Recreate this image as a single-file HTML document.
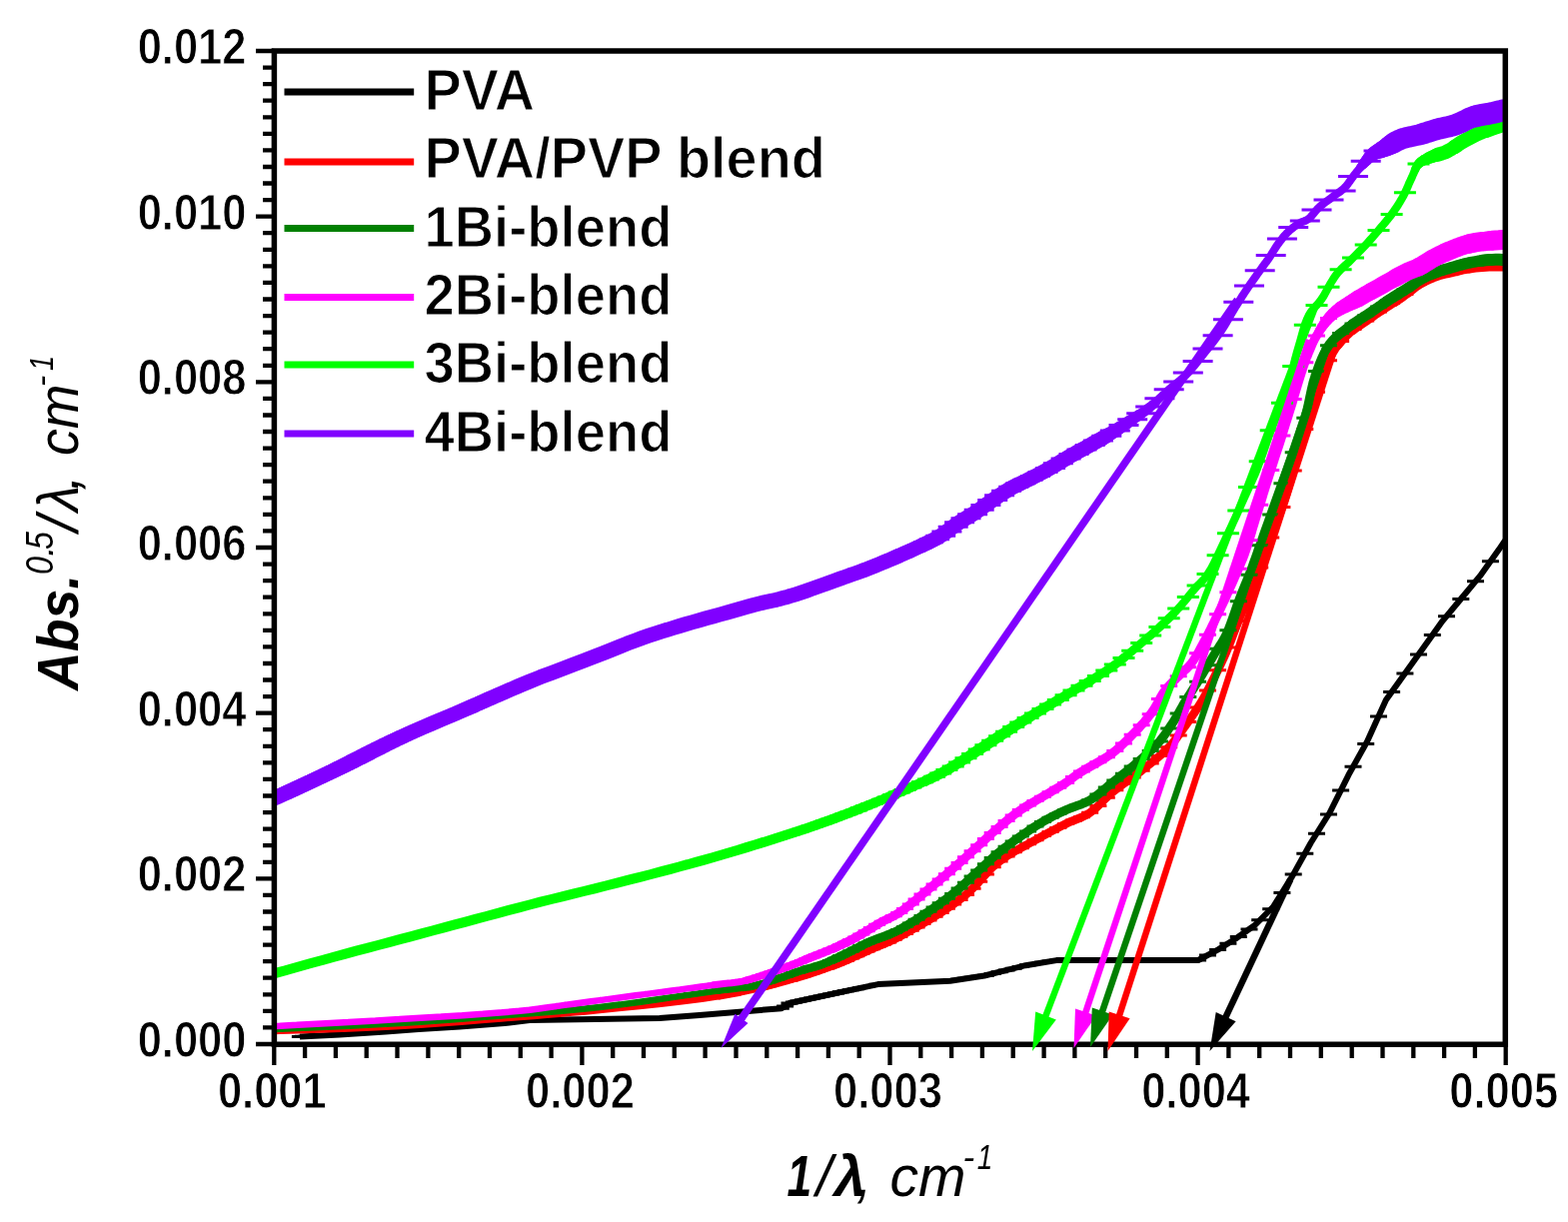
<!DOCTYPE html>
<html><head><meta charset="utf-8"><style>
html,body{margin:0;padding:0;background:#fff;}
svg{display:block;}
.t{font-family:"Liberation Sans",Arial,sans-serif;font-weight:bold;fill:#000;}
.th{stroke:#fff;stroke-width:1.2px;}
.th2{stroke:#fff;stroke-width:0.9px;}
</style></head><body>
<svg width="1569" height="1223" viewBox="0 0 1569 1223">
<rect width="1569" height="1223" fill="#fff"/>
<defs><clipPath id="pc"><rect x="274.3" y="51.3" width="1232.4" height="993.7"/></clipPath></defs>
<g fill="none" stroke-linecap="butt" stroke-linejoin="round" clip-path="url(#pc)"><path d="M1482.9 561.8H1499.9M1468.0 581.8H1485.0M1453.3 599.4H1470.3M1439.0 616.7H1456.0M1424.8 635.6H1441.8M1411.0 654.9H1428.0M1397.4 674.0H1414.4M1384.1 692.6H1401.1M1371.0 716.9H1388.0M1358.2 744.6H1375.2M1345.5 767.3H1362.5M1333.1 791.1H1350.1M1321.0 815.1H1338.0M1309.0 834.2H1326.0M1297.3 854.2H1314.3M1285.7 875.0H1302.7M1274.4 893.4H1291.4M1263.2 909.8H1280.2M1252.2 920.8H1269.2M1241.5 930.0H1258.5M1230.8 937.4H1247.8M1220.4 944.2H1237.4M1210.1 950.5H1227.1M1200.0 955.9H1217.0M1190.1 961.0H1207.1M1180.3 961.0H1197.3M1170.7 961.0H1187.7M1161.2 961.0H1178.2M1151.9 961.0H1168.9M1142.7 961.0H1159.7M1133.7 961.0H1150.7M1124.7 961.0H1141.7M1116.0 961.1H1133.0M1107.3 961.1H1124.3M1098.8 961.1H1115.8M1090.4 961.1H1107.4M1082.2 961.1H1099.2M1074.0 961.1H1091.0M1066.0 961.1H1083.0M1058.1 961.1H1075.1M1050.3 961.1H1067.3M1042.6 962.1H1059.6M1035.0 963.3H1052.0M1027.5 964.6H1044.5M1020.1 965.8H1037.1M1012.8 967.4H1029.8M1005.7 969.2H1022.7M998.6 971.0H1015.6M991.6 972.7H1008.6M984.7 974.5H1001.7M977.9 976.2H994.9M971.2 977.3H988.2M964.6 978.3H981.6M958.0 979.3H975.0M951.6 980.3H968.6M945.2 981.2H962.2M938.9 981.9H955.9M932.7 982.1H949.7M926.6 982.4H943.6M920.5 982.7H937.5M914.5 983.0H931.5M908.6 983.3H925.6M902.8 983.6H919.8M897.0 983.8H914.0M891.3 984.1H908.3M885.7 984.4H902.7M880.2 984.6H897.2M874.7 984.9H891.7M869.2 985.3H886.2M863.9 986.4H880.9M858.6 987.5H875.6M853.3 988.6H870.3M848.2 989.7H865.2M843.0 990.7H860.0M838.0 991.8H855.0M833.0 992.8H850.0M828.0 993.9H845.0M823.1 994.9H840.1M818.3 996.0H835.3M813.5 997.0H830.5M808.8 998.1H825.8M804.1 999.1H821.1M799.5 1000.1H816.5M794.9 1001.1H811.9M790.4 1002.1H807.4M785.9 1003.0H802.9M781.5 1004.0H798.5M777.1 1006.9H794.1M772.8 1009.3H789.8M768.5 1009.6H785.5M764.2 1010.0H781.2M760.0 1010.3H777.0M755.9 1010.7H772.9M751.8 1011.0H768.8M747.7 1011.3H764.7M743.7 1011.7H760.7M739.7 1012.0H756.7M735.7 1012.3H752.7M731.8 1012.7H748.8M728.0 1013.0H745.0M724.1 1013.3H741.1M720.3 1013.6H737.3M716.6 1013.9H733.6M712.8 1014.2H729.8M709.2 1014.5H726.2M705.5 1014.8H722.5M701.9 1015.1H718.9M698.3 1015.4H715.3M694.8 1015.7H711.8M691.3 1016.0H708.3M687.8 1016.3H704.8M684.4 1016.5H701.4M680.9 1016.8H697.9M677.6 1017.0H694.6M674.2 1017.3H691.2M670.9 1017.5H687.9M667.6 1017.8H684.6M664.4 1018.0H681.4M661.1 1018.3H678.1M657.9 1018.5H674.9M654.8 1018.8H671.8M651.6 1019.0H668.6M648.5 1019.0H665.5M645.4 1019.1H662.4M642.4 1019.1H659.4M639.3 1019.2H656.3M636.3 1019.2H653.3M633.4 1019.3H650.4M630.4 1019.3H647.4M627.5 1019.4H644.5M624.6 1019.4H641.6M621.7 1019.5H638.7M618.9 1019.5H635.9M616.0 1019.5H633.0M613.2 1019.6H630.2M610.5 1019.6H627.5M607.7 1019.7H624.7M605.0 1019.7H622.0M602.3 1019.8H619.3M599.6 1019.8H616.6M596.9 1019.8H613.9M594.3 1019.9H611.3M591.7 1019.9H608.7M589.1 1020.0H606.1M586.5 1020.0H603.5M583.9 1020.0H600.9M581.4 1020.1H598.4M578.9 1020.1H595.9M576.4 1020.2H593.4M573.9 1020.2H590.9M571.4 1020.2H588.4M569.0 1020.3H586.0M566.6 1020.3H583.6M564.2 1020.3H581.2M561.8 1020.4H578.8M559.5 1020.4H576.5M557.1 1020.5H574.1M554.8 1020.5H571.8M552.5 1020.5H569.5M550.2 1020.6H567.2M547.9 1020.6H564.9M545.7 1020.6H562.7M543.4 1020.7H560.4M541.2 1020.7H558.2M539.0 1020.7H556.0M536.8 1020.8H553.8M534.7 1020.8H551.7M532.5 1020.8H549.5M530.4 1020.9H547.4M528.3 1020.9H545.3M526.2 1020.9H543.2M524.1 1021.0H541.1M522.0 1021.0H539.0M519.9 1021.2H536.9M517.9 1021.4H534.9M515.9 1021.7H532.9M513.8 1021.9H530.8M511.8 1022.2H528.8M509.9 1022.4H526.9M507.9 1022.6H524.9M505.9 1022.9H522.9M504.0 1023.1H521.0M502.0 1023.3H519.0M500.1 1023.6H517.1M498.2 1023.8H515.2M496.3 1024.0H513.3M494.5 1024.2H511.5M492.6 1024.3H509.6M490.7 1024.4H507.7M488.9 1024.6H505.9M487.1 1024.7H504.1M485.3 1024.9H502.3M483.5 1025.0H500.5M481.7 1025.2H498.7M479.9 1025.3H496.9M478.1 1025.4H495.1M476.4 1025.6H493.4M474.6 1025.7H491.6M472.9 1025.8H489.9M471.2 1026.0H488.2M469.5 1026.1H486.5M467.8 1026.2H484.8M466.1 1026.4H483.1M464.4 1026.5H481.4M462.8 1026.6H479.8M461.1 1026.8H478.1M459.5 1026.9H476.5M457.9 1027.0H474.9M456.2 1027.1H473.2M454.6 1027.3H471.6M453.0 1027.4H470.0M451.4 1027.5H468.4M449.9 1027.6H466.9M448.3 1027.7H465.3M446.7 1027.8H463.7M445.2 1027.9H462.2M443.7 1028.0H460.7M442.1 1028.1H459.1M440.6 1028.2H457.6M439.1 1028.3H456.1M437.6 1028.3H454.6M436.1 1028.4H453.1M434.6 1028.5H451.6M433.2 1028.6H450.2M431.7 1028.7H448.7M430.2 1028.8H447.2M428.8 1028.9H445.8M427.4 1029.0H444.4M425.9 1029.1H442.9M424.5 1029.1H441.5M423.1 1029.2H440.1M421.7 1029.3H438.7M420.3 1029.4H437.3M418.9 1029.5H435.9M417.6 1029.6H434.6M416.2 1029.7H433.2M414.8 1029.7H431.8M413.5 1029.8H430.5M412.1 1029.9H429.1M410.8 1030.0H427.8M409.5 1030.1H426.5M408.1 1030.2H425.1M406.8 1030.3H423.8M405.5 1030.4H422.5M404.2 1030.5H421.2M402.9 1030.6H419.9M401.6 1030.7H418.6M400.4 1030.8H417.4M399.1 1030.9H416.1M397.8 1031.0H414.8M396.6 1031.1H413.6M395.3 1031.1H412.3M394.1 1031.2H411.1M392.9 1031.3H409.9M391.6 1031.4H408.6M390.4 1031.5H407.4M389.2 1031.6H406.2M388.0 1031.7H405.0M386.8 1031.8H403.8M385.6 1031.9H402.6M384.4 1032.0H401.4M383.3 1032.1H400.3M382.1 1032.2H399.1M380.9 1032.2H397.9M379.8 1032.3H396.8M378.6 1032.4H395.6M377.5 1032.5H394.5M376.3 1032.6H393.3M375.2 1032.7H392.2M374.1 1032.7H391.1M372.9 1032.8H389.9M371.8 1032.9H388.8M370.7 1032.9H387.7M369.6 1033.0H386.6M368.5 1033.1H385.5M367.4 1033.2H384.4M366.3 1033.2H383.3M365.2 1033.3H382.2M364.2 1033.4H381.2M363.1 1033.4H380.1M362.0 1033.5H379.0M361.0 1033.6H378.0M359.9 1033.6H376.9M358.9 1033.7H375.9M357.8 1033.8H374.8M356.8 1033.9H373.8M355.8 1033.9H372.8M354.7 1034.0H371.7M353.7 1034.1H370.7M352.7 1034.1H369.7M351.7 1034.2H368.7M350.7 1034.2H367.7M349.7 1034.3H366.7M348.7 1034.4H365.7M347.7 1034.4H364.7M346.7 1034.5H363.7M345.7 1034.6H362.7M344.8 1034.6H361.8M343.8 1034.7H360.8M342.8 1034.8H359.8M341.9 1034.8H358.9M340.9 1034.9H357.9M340.0 1034.9H357.0M339.0 1035.0H356.0M338.1 1035.1H355.1M337.1 1035.1H354.1M336.2 1035.2H353.2M335.3 1035.3H352.3M334.4 1035.3H351.4M333.4 1035.4H350.4M332.5 1035.4H349.5M331.6 1035.5H348.6M330.7 1035.5H347.7M329.8 1035.6H346.8M328.9 1035.6H345.9M328.0 1035.7H345.0M327.1 1035.7H344.1M326.2 1035.8H343.2M325.4 1035.8H342.4M324.5 1035.9H341.5M323.6 1035.9H340.6M322.7 1035.9H339.7M321.9 1036.0H338.9M321.0 1036.0H338.0M320.2 1036.1H337.2M319.3 1036.1H336.3M318.5 1036.2H335.5M317.6 1036.2H334.6M316.8 1036.2H333.8M316.0 1036.3H333.0M315.1 1036.3H332.1M314.3 1036.4H331.3M313.5 1036.4H330.5M312.7 1036.4H329.7M311.8 1036.5H328.8M311.0 1036.5H328.0M310.2 1036.6H327.2M309.4 1036.6H326.4M308.6 1036.6H325.6M307.8 1036.7H324.8M307.0 1036.7H324.0M306.2 1036.8H323.2M305.4 1036.8H322.4M304.7 1036.8H321.7M303.9 1036.9H320.9M303.1 1036.9H320.1M302.3 1037.0H319.3M301.6 1037.0H318.6M300.8 1037.0H317.8M300.0 1037.1H317.0M299.3 1037.1H316.3M298.5 1037.1H315.5M297.8 1037.2H314.8M297.0 1037.2H314.0M296.3 1037.3H313.3M295.5 1037.3H312.5M294.8 1037.3H311.8M294.1 1037.4H311.1M293.3 1037.4H310.3M292.6 1037.4H309.6M291.9 1037.5H308.9" stroke="#000000" stroke-width="3"/>
<polyline points="300.0,1037.5 340.0,1035.5 386.0,1032.5 419.0,1030.0 460.0,1027.5 505.0,1024.0 530.0,1021.0 660.0,1019.0 700.0,1016.0 782.0,1009.2 790.0,1004.0 837.4,993.7 878.6,985.1 950.7,981.7 985.0,976.5 1026.2,966.2 1057.1,961.1 1199.0,961.0 1218.9,950.4 1236.4,939.5 1255.2,926.3 1274.0,907.5 1292.9,877.4 1311.7,843.5 1330.5,813.5 1349.3,775.8 1368.1,742.0 1386.9,700.6 1405.7,674.3 1424.5,647.9 1443.4,621.6 1462.2,599.0 1481.0,576.4 1499.8,550.1 1506.0,541.0" stroke="#000000" stroke-width="6"/>
<path d="M1482.9 266.0H1499.9M1468.0 267.1H1485.0M1453.3 269.8H1470.3M1439.0 273.2H1456.0M1424.8 277.4H1441.8M1411.0 284.3H1428.0M1397.4 294.5H1414.4M1384.1 303.5H1401.1M1371.0 312.1H1388.0M1358.2 320.9H1375.2M1345.5 329.6H1362.5M1333.1 341.6H1350.1M1321.0 360.8H1338.0M1309.0 392.2H1326.0M1297.3 429.4H1314.3M1285.7 471.1H1302.7M1274.4 507.5H1291.4M1263.2 538.0H1280.2M1252.2 568.0H1269.2M1241.5 595.2H1258.5M1230.8 621.6H1247.8M1220.4 648.1H1237.4M1210.1 670.7H1227.1M1200.0 690.9H1217.0M1190.1 708.1H1207.1M1180.3 722.5H1197.3M1170.7 736.1H1187.7M1161.2 747.7H1178.2M1151.9 756.5H1168.9M1142.7 764.0H1159.7M1133.7 771.2H1150.7M1124.7 777.9H1141.7M1116.0 784.3H1133.0M1107.3 790.8H1124.3M1098.8 798.2H1115.8M1090.4 806.4H1107.4M1082.2 813.3H1099.2M1074.0 817.8H1091.0M1066.0 821.0H1083.0M1058.1 824.5H1075.1M1050.3 828.4H1067.3M1042.6 832.5H1059.6M1035.0 836.6H1052.0M1027.5 840.7H1044.5M1020.1 844.8H1037.1M1012.8 848.8H1029.8M1005.7 852.8H1022.7M998.6 857.1H1015.6M991.6 862.0H1008.6M984.7 867.8H1001.7M977.9 874.9H994.9M971.2 882.3H988.2M964.6 889.3H981.6M958.0 895.4H975.0M951.6 900.4H968.6M945.2 905.1H962.2M938.9 909.3H955.9M932.7 913.4H949.7M926.6 917.3H943.6M920.5 921.0H937.5M914.5 924.5H931.5M908.6 927.9H925.6M902.8 931.2H919.8M897.0 934.4H914.0M891.3 937.5H908.3M885.7 940.3H902.7M880.2 942.9H897.2M874.7 945.2H891.7M869.2 947.5H886.2M863.9 949.7H880.9M858.6 952.0H875.6M853.3 954.4H870.3M848.2 956.7H865.2M843.0 959.0H860.0M838.0 961.2H855.0M833.0 963.3H850.0M828.0 965.3H845.0M823.1 967.1H840.1M818.3 968.9H835.3M813.5 970.6H830.5M808.8 972.2H825.8M804.1 973.7H821.1M799.5 975.3H816.5M794.9 976.7H811.9M790.4 978.1H807.4M785.9 979.5H802.9M781.5 980.8H798.5M777.1 982.1H794.1M772.8 983.3H789.8M768.5 984.5H785.5M764.2 985.6H781.2M760.0 986.7H777.0M755.9 987.8H772.9M751.8 988.8H768.8M747.7 989.8H764.7M743.7 990.7H760.7M739.7 991.6H756.7M735.7 992.4H752.7M731.8 993.3H748.8M728.0 994.0H745.0M724.1 994.8H741.1M720.3 995.5H737.3M716.6 996.1H733.6M712.8 996.8H729.8M709.2 997.4H726.2M705.5 997.9H722.5M701.9 998.5H718.9M698.3 999.0H715.3M694.8 999.5H711.8M691.3 1000.0H708.3M687.8 1000.5H704.8M684.4 1000.9H701.4M680.9 1001.3H697.9M677.6 1001.8H694.6M674.2 1002.2H691.2M670.9 1002.6H687.9M667.6 1003.0H684.6M664.4 1003.3H681.4M661.1 1003.7H678.1M657.9 1004.1H674.9M654.8 1004.4H671.8M651.6 1004.8H668.6M648.5 1005.1H665.5M645.4 1005.5H662.4M642.4 1005.8H659.4M639.3 1006.1H656.3M636.3 1006.4H653.3M633.4 1006.7H650.4M630.4 1007.0H647.4M627.5 1007.3H644.5M624.6 1007.6H641.6M621.7 1007.9H638.7M618.9 1008.2H635.9M616.0 1008.5H633.0M613.2 1008.8H630.2M610.5 1009.1H627.5M607.7 1009.4H624.7M605.0 1009.6H622.0M602.3 1009.9H619.3M599.6 1010.2H616.6M596.9 1010.5H613.9M594.3 1010.7H611.3M591.7 1011.0H608.7M589.1 1011.2H606.1M586.5 1011.5H603.5M583.9 1011.8H600.9M581.4 1012.0H598.4M578.9 1012.2H595.9M576.4 1012.5H593.4M573.9 1012.7H590.9M571.4 1012.9H588.4M569.0 1013.2H586.0M566.6 1013.4H583.6M564.2 1013.6H581.2M561.8 1013.8H578.8M559.5 1014.0H576.5M557.1 1014.2H574.1M554.8 1014.4H571.8M552.5 1014.6H569.5M550.2 1014.8H567.2M547.9 1015.0H564.9M545.7 1015.2H562.7M543.4 1015.4H560.4M541.2 1015.6H558.2M539.0 1015.8H556.0M536.8 1015.9H553.8M534.7 1016.1H551.7M532.5 1016.3H549.5M530.4 1016.5H547.4M528.3 1016.6H545.3M526.2 1016.8H543.2M524.1 1017.0H541.1M522.0 1017.2H539.0M519.9 1017.3H536.9M517.9 1017.5H534.9M515.9 1017.6H532.9M513.8 1017.8H530.8M511.8 1018.0H528.8M509.9 1018.1H526.9M507.9 1018.3H524.9M505.9 1018.5H522.9M504.0 1018.6H521.0M502.0 1018.8H519.0M500.1 1018.9H517.1M498.2 1019.1H515.2M496.3 1019.2H513.3M494.5 1019.4H511.5M492.6 1019.5H509.6M490.7 1019.7H507.7M488.9 1019.8H505.9M487.1 1020.0H504.1M485.3 1020.1H502.3M483.5 1020.3H500.5M481.7 1020.4H498.7M479.9 1020.6H496.9M478.1 1020.7H495.1M476.4 1020.9H493.4M474.6 1021.0H491.6M472.9 1021.2H489.9M471.2 1021.3H488.2M469.5 1021.4H486.5M467.8 1021.6H484.8M466.1 1021.7H483.1M464.4 1021.8H481.4M462.8 1022.0H479.8M461.1 1022.1H478.1M459.5 1022.2H476.5M457.9 1022.4H474.9M456.2 1022.5H473.2M454.6 1022.6H471.6M453.0 1022.7H470.0M451.4 1022.9H468.4M449.9 1023.0H466.9M448.3 1023.1H465.3M446.7 1023.2H463.7M445.2 1023.3H462.2M443.7 1023.4H460.7M442.1 1023.6H459.1M440.6 1023.7H457.6M439.1 1023.8H456.1M437.6 1023.9H454.6M436.1 1024.0H453.1M434.6 1024.1H451.6M433.2 1024.2H450.2M431.7 1024.3H448.7M430.2 1024.5H447.2M428.8 1024.6H445.8M427.4 1024.7H444.4M425.9 1024.8H442.9M424.5 1024.9H441.5M423.1 1024.9H440.1M421.7 1025.0H438.7M420.3 1025.1H437.3M418.9 1025.2H435.9M417.6 1025.3H434.6M416.2 1025.4H433.2M414.8 1025.5H431.8M413.5 1025.6H430.5M412.1 1025.7H429.1M410.8 1025.8H427.8M409.5 1025.9H426.5M408.1 1026.0H425.1M406.8 1026.0H423.8M405.5 1026.1H422.5M404.2 1026.2H421.2M402.9 1026.3H419.9M401.6 1026.4H418.6M400.4 1026.4H417.4M399.1 1026.5H416.1M397.8 1026.6H414.8M396.6 1026.7H413.6M395.3 1026.8H412.3M394.1 1026.8H411.1M392.9 1026.9H409.9M391.6 1027.0H408.6M390.4 1027.1H407.4M389.2 1027.1H406.2M388.0 1027.2H405.0M386.8 1027.2H403.8M385.6 1027.3H402.6M384.4 1027.4H401.4M383.3 1027.4H400.3M382.1 1027.5H399.1M380.9 1027.5H397.9M379.8 1027.6H396.8M378.6 1027.6H395.6M377.5 1027.7H394.5M376.3 1027.8H393.3M375.2 1027.8H392.2M374.1 1027.9H391.1M372.9 1027.9H389.9M371.8 1028.0H388.8M370.7 1028.0H387.7M369.6 1028.1H386.6M368.5 1028.2H385.5M367.4 1028.2H384.4M366.3 1028.3H383.3M365.2 1028.3H382.2M364.2 1028.3H381.2M363.1 1028.4H380.1M362.0 1028.4H379.0M361.0 1028.5H378.0M359.9 1028.5H376.9M358.9 1028.6H375.9M357.8 1028.6H374.8M356.8 1028.7H373.8M355.8 1028.7H372.8M354.7 1028.7H371.7M353.7 1028.8H370.7M352.7 1028.8H369.7M351.7 1028.9H368.7M350.7 1028.9H367.7M349.7 1029.0H366.7M348.7 1029.0H365.7M347.7 1029.0H364.7M346.7 1029.1H363.7M345.7 1029.1H362.7M344.8 1029.2H361.8M343.8 1029.2H360.8M342.8 1029.3H359.8M341.9 1029.3H358.9M340.9 1029.3H357.9M340.0 1029.4H357.0M339.0 1029.4H356.0M338.1 1029.4H355.1M337.1 1029.5H354.1M336.2 1029.5H353.2M335.3 1029.5H352.3M334.4 1029.6H351.4M333.4 1029.6H350.4M332.5 1029.7H349.5M331.6 1029.7H348.6M330.7 1029.7H347.7M329.8 1029.8H346.8M328.9 1029.8H345.9M328.0 1029.8H345.0M327.1 1029.9H344.1M326.2 1029.9H343.2M325.4 1029.9H342.4M324.5 1030.0H341.5M323.6 1030.0H340.6M322.7 1030.0H339.7M321.9 1030.1H338.9M321.0 1030.1H338.0M320.2 1030.1H337.2M319.3 1030.2H336.3M318.5 1030.2H335.5M317.6 1030.2H334.6M316.8 1030.2H333.8M316.0 1030.3H333.0M315.1 1030.3H332.1M314.3 1030.3H331.3M313.5 1030.4H330.5M312.7 1030.4H329.7M311.8 1030.4H328.8M311.0 1030.5H328.0M310.2 1030.5H327.2M309.4 1030.5H326.4M308.6 1030.5H325.6M307.8 1030.6H324.8M307.0 1030.6H324.0M306.2 1030.6H323.2M305.4 1030.7H322.4M304.7 1030.7H321.7M303.9 1030.7H320.9M303.1 1030.7H320.1M302.3 1030.8H319.3M301.6 1030.8H318.6M300.8 1030.8H317.8M300.0 1030.8H317.0M299.3 1030.9H316.3M298.5 1030.9H315.5M297.8 1030.9H314.8M297.0 1030.9H314.0M296.3 1031.0H313.3M295.5 1031.0H312.5M294.8 1031.0H311.8M294.1 1031.1H311.1M293.3 1031.1H310.3M292.6 1031.1H309.6M291.9 1031.1H308.9M291.1 1031.2H308.1M290.4 1031.2H307.4M289.7 1031.2H306.7M289.0 1031.2H306.0M288.3 1031.3H305.3M287.6 1031.3H304.6M286.9 1031.3H303.9M286.2 1031.3H303.2M285.5 1031.3H302.5M284.8 1031.4H301.8M284.1 1031.4H301.1M283.4 1031.4H300.4M282.7 1031.4H299.7M282.0 1031.5H299.0M281.3 1031.5H298.3M280.7 1031.5H297.7M280.0 1031.5H297.0M279.3 1031.6H296.3M278.6 1031.6H295.6M278.0 1031.6H295.0M277.3 1031.6H294.3M276.6 1031.6H293.6M276.5 1031.7H293.0M276.5 1031.7H292.3M276.5 1031.7H291.7M276.5 1031.7H291.0M276.5 1031.7H290.4M276.5 1031.8H289.7M276.5 1031.8H289.1M276.5 1031.8H288.4M276.5 1031.8H287.8M276.5 1031.9H287.2M276.5 1031.9H286.5M276.5 1031.9H285.9M276.5 1031.9H285.3M276.5 1031.9H284.7M276.5 1032.0H284.0M276.5 1032.0H283.4M276.5 1032.0H282.8" stroke="#ff0000" stroke-width="3"/>
<path d="M274.0 1032.0L280.5 1031.8M280.5 1031.8L297.5 1031.2M297.5 1031.2L321.5 1030.4M321.5 1030.4L348.9 1029.4M348.9 1029.4L376.3 1028.2M376.3 1028.2L400.0 1027.0M400.0 1027.0L420.5 1025.7M420.5 1025.7L441.1 1024.3M441.1 1024.3L461.7 1022.7M461.7 1022.7L481.9 1021.1M481.9 1021.1L501.4 1019.5M501.4 1019.5L520.0 1018.0M520.0 1018.0L534.1 1016.9M534.1 1016.9L547.3 1015.8M547.3 1015.8L560.0 1014.7M560.0 1014.7L572.7 1013.6M572.7 1013.6L585.9 1012.4M585.9 1012.4L600.0 1011.0M600.0 1011.0L619.1 1009.1M619.1 1009.1L639.9 1007.0M639.9 1007.0L661.3 1004.7M661.3 1004.7L682.4 1002.2M682.4 1002.2L702.3 999.7M702.3 999.7L720.0 997.0" stroke="#ff0000" stroke-width="6.5" stroke-linecap="round"/><path d="M720.0 997.0L730.8 995.1M730.8 995.1L740.8 993.2M740.8 993.2L750.1 991.2M750.1 991.2L759.1 989.1" stroke="#ff0000" stroke-width="7.0" stroke-linecap="round"/><path d="M759.1 989.1L768.1 986.8M768.1 986.8L777.4 984.4M777.4 984.4L787.2 981.7M787.2 981.7L797.1 978.7" stroke="#ff0000" stroke-width="7.5" stroke-linecap="round"/><path d="M797.1 978.7L807.1 975.6M807.1 975.6L816.8 972.4M816.8 972.4L826.0 969.2M826.0 969.2L834.7 966.0" stroke="#ff0000" stroke-width="8.0" stroke-linecap="round"/><path d="M834.7 966.0L841.0 963.5M841.0 963.5L846.9 961.0M846.9 961.0L852.6 958.5M852.6 958.5L858.1 956.0M858.1 956.0L863.6 953.6M863.6 953.6L869.1 951.1M869.1 951.1L874.2 948.9M874.2 948.9L879.2 946.9M879.2 946.9L884.1 944.9M884.1 944.9L889.0 942.7M889.0 942.7L894.3 940.3M894.3 940.3L900.0 937.4M900.0 937.4L909.7 932.1M909.7 932.1L920.7 925.9M920.7 925.9L932.3 919.0M932.3 919.0L943.8 911.8M943.8 911.8L954.7 904.4M954.7 904.4L964.3 897.3M964.3 897.3L970.9 891.6M970.9 891.6L976.8 885.6M976.8 885.6L982.2 879.5M982.2 879.5L987.5 873.6M987.5 873.6L992.9 868.0M992.9 868.0L998.7 863.0M998.7 863.0L1004.2 859.0M1004.2 859.0L1009.9 855.3M1009.9 855.3L1015.6 851.9M1015.6 851.9L1021.4 848.7M1021.4 848.7L1027.2 845.6M1027.2 845.6L1033.0 842.4M1033.0 842.4L1038.8 839.2M1038.8 839.2L1044.6 835.9M1044.6 835.9L1050.5 832.7M1050.5 832.7L1056.3 829.7M1056.3 829.7L1062.0 826.8M1062.0 826.8L1067.3 824.1M1067.3 824.1L1071.4 822.2M1071.4 822.2L1075.3 820.7M1075.3 820.7L1079.0 819.2M1079.0 819.2L1082.7 817.7M1082.7 817.7L1086.4 815.9M1086.4 815.9L1090.0 813.8M1090.0 813.8L1093.9 810.9M1093.9 810.9L1097.6 807.7M1097.6 807.7L1101.2 804.2M1101.2 804.2L1104.8 800.5M1104.8 800.5L1108.6 796.9M1108.6 796.9L1112.7 793.3M1112.7 793.3L1117.8 789.2M1117.8 789.2L1123.3 785.1M1123.3 785.1L1129.0 781.0M1129.0 781.0L1134.6 776.9M1134.6 776.9L1140.2 772.8M1140.2 772.8L1145.4 768.7M1145.4 768.7L1149.8 765.2M1149.8 765.2L1154.1 761.7M1154.1 761.7L1158.4 758.2M1158.4 758.2L1162.4 754.7M1162.4 754.7L1166.3 751.2M1166.3 751.2L1169.9 747.5M1169.9 747.5L1173.0 744.1M1173.0 744.1L1175.8 740.6M1175.8 740.6L1178.4 737.1M1178.4 737.1L1181.0 733.5M1181.0 733.5L1183.6 729.9M1183.6 729.9L1186.2 726.2M1186.2 726.2L1189.0 722.2M1189.0 722.2L1191.9 718.2M1191.9 718.2L1194.7 714.0M1194.7 714.0L1197.5 709.9M1197.5 709.9L1200.1 705.8M1200.1 705.8L1202.6 701.7M1202.6 701.7L1204.7 698.1M1204.7 698.1L1206.7 694.5M1206.7 694.5L1208.5 690.9M1208.5 690.9L1210.3 687.3M1210.3 687.3L1212.1 683.7M1212.1 683.7L1214.0 680.0M1214.0 680.0L1216.0 676.0M1216.0 676.0L1218.1 671.8M1218.1 671.8L1220.1 667.6M1220.1 667.6L1222.1 663.4M1222.1 663.4L1224.1 659.2M1224.1 659.2L1226.0 655.0M1226.0 655.0L1227.8 650.9M1227.8 650.9L1229.4 646.8M1229.4 646.8L1231.1 642.7M1231.1 642.7L1232.7 638.5M1232.7 638.5L1234.3 634.3M1234.3 634.3L1236.0 630.0M1236.0 630.0L1237.9 625.2M1237.9 625.2L1239.9 620.2M1239.9 620.2L1241.9 615.2M1241.9 615.2L1244.0 610.1M1244.0 610.1L1246.0 605.0M1246.0 605.0L1248.0 600.0M1248.0 600.0L1250.0 594.9M1250.0 594.9L1252.1 589.8M1252.1 589.8L1254.2 584.7M1254.2 584.7L1256.2 579.7M1256.2 579.7L1258.2 574.7M1258.2 574.7L1260.0 570.0M1260.0 570.0L1261.4 566.3M1261.4 566.3L1262.7 562.8M1262.7 562.8L1263.9 559.4M1263.9 559.4L1265.2 555.9M1265.2 555.9L1266.5 552.2M1266.5 552.2L1268.0 548.0M1268.0 548.0L1270.7 540.6M1270.7 540.6L1273.8 532.3M1273.8 532.3L1277.2 523.4M1277.2 523.4L1280.6 514.0M1280.6 514.0L1284.0 504.3M1284.0 504.3L1287.3 494.4M1287.3 494.4L1291.2 481.6M1291.2 481.6L1295.2 467.7M1295.2 467.7L1299.2 453.3M1299.2 453.3L1303.0 439.1M1303.0 439.1L1306.7 425.9M1306.7 425.9L1310.2 414.3M1310.2 414.3L1312.3 407.7M1312.3 407.7L1314.3 401.6M1314.3 401.6L1316.2 396.0M1316.2 396.0L1318.1 390.6M1318.1 390.6L1320.0 385.3M1320.0 385.3L1322.0 380.0M1322.0 380.0L1323.9 375.1M1323.9 375.1L1325.7 370.2M1325.7 370.2L1327.6 365.3" stroke="#ff0000" stroke-width="8.5" stroke-linecap="round"/><path d="M1327.6 365.3L1329.5 360.7M1329.5 360.7L1331.6 356.2M1331.6 356.2L1334.0 352.0M1334.0 352.0L1336.3 348.4M1336.3 348.4L1338.8 345.1" stroke="#ff0000" stroke-width="9.0" stroke-linecap="round"/><path d="M1338.8 345.1L1341.4 341.9M1341.4 341.9L1344.1 338.8M1344.1 338.8L1347.0 335.9M1347.0 335.9L1350.0 333.0M1350.0 333.0L1353.3 330.2" stroke="#ff0000" stroke-width="9.5" stroke-linecap="round"/><path d="M1353.3 330.2L1356.8 327.5M1356.8 327.5L1360.5 325.0M1360.5 325.0L1364.2 322.5M1364.2 322.5L1367.7 320.2M1367.7 320.2L1371.0 318.0M1371.0 318.0L1373.3 316.4M1373.3 316.4L1375.5 314.8M1375.5 314.8L1377.6 313.3M1377.6 313.3L1379.7 311.9M1379.7 311.9L1381.8 310.5M1381.8 310.5L1384.0 309.0M1384.0 309.0L1386.3 307.5M1386.3 307.5L1388.7 306.0M1388.7 306.0L1391.0 304.5M1391.0 304.5L1393.4 303.0M1393.4 303.0L1395.7 301.5" stroke="#ff0000" stroke-width="10.0" stroke-linecap="round"/><path d="M1395.7 301.5L1398.0 300.0M1398.0 300.0L1400.1 298.6M1400.1 298.6L1402.1 297.2M1402.1 297.2L1404.1 295.7M1404.1 295.7L1406.1 294.3M1406.1 294.3L1408.1 292.9M1408.1 292.9L1410.0 291.5M1410.0 291.5L1411.7 290.2M1411.7 290.2L1413.3 288.9M1413.3 288.9L1414.8 287.7M1414.8 287.7L1416.4 286.4M1416.4 286.4L1418.1 285.2M1418.1 285.2L1420.0 284.0M1420.0 284.0L1422.5 282.6M1422.5 282.6L1425.2 281.1M1425.2 281.1L1428.1 279.7M1428.1 279.7L1431.1 278.4M1431.1 278.4L1434.0 277.1M1434.0 277.1L1437.0 276.0M1437.0 276.0L1440.0 275.0M1440.0 275.0L1443.0 274.2M1443.0 274.2L1446.0 273.5M1446.0 273.5L1449.1 272.8M1449.1 272.8L1452.1 272.2M1452.1 272.2L1455.0 271.5M1455.0 271.5L1457.6 270.9M1457.6 270.9L1460.0 270.2M1460.0 270.2L1462.4 269.6M1462.4 269.6L1464.9 269.0M1464.9 269.0L1467.4 268.5M1467.4 268.5L1470.0 268.0" stroke="#ff0000" stroke-width="10.5" stroke-linecap="round"/><path d="M1470.0 268.0L1473.2 267.5M1473.2 267.5L1476.5 267.1M1476.5 267.1L1479.9 266.7M1479.9 266.7L1483.4 266.4M1483.4 266.4L1486.8 266.2M1486.8 266.2L1490.0 266.0M1490.0 266.0L1493.1 265.9M1493.1 265.9L1496.6 265.9M1496.6 265.9L1500.1 265.9M1500.1 265.9L1503.1 265.9M1503.1 265.9L1505.2 266.0M1505.2 266.0L1506.0 266.0" stroke="#ff0000" stroke-width="11.0" stroke-linecap="round"/>
<path d="M1482.9 259.9H1499.9M1468.0 261.8H1485.0M1453.3 265.0H1470.3M1439.0 269.1H1456.0M1424.8 274.0H1441.8M1411.0 280.8H1428.0M1397.4 290.1H1414.4M1384.1 298.4H1401.1M1371.0 307.1H1388.0M1358.2 315.8H1375.2M1345.5 324.0H1362.5M1333.1 333.4H1350.1M1321.0 345.8H1338.0M1309.0 371.6H1326.0M1297.3 418.3H1314.3M1285.7 452.7H1302.7M1274.4 483.8H1291.4M1263.2 515.0H1280.2M1252.2 545.7H1269.2M1241.5 575.3H1258.5M1230.8 601.8H1247.8M1220.4 630.7H1237.4M1210.1 649.2H1227.1M1200.0 665.8H1217.0M1190.1 682.2H1207.1M1180.3 697.5H1197.3M1170.7 714.0H1187.7M1161.2 729.1H1178.2M1151.9 741.9H1168.9M1142.7 751.6H1159.7M1133.7 759.6H1150.7M1124.7 767.1H1141.7M1116.0 774.2H1133.0M1107.3 781.0H1124.3M1098.8 788.0H1115.8M1090.4 794.9H1107.4M1082.2 800.8H1099.2M1074.0 804.7H1091.0M1066.0 807.6H1083.0M1058.1 810.7H1075.1M1050.3 814.4H1067.3M1042.6 818.2H1059.6M1035.0 822.4H1052.0M1027.5 827.0H1044.5M1020.1 831.9H1037.1M1012.8 836.9H1029.8M1005.7 842.0H1022.7M998.6 847.2H1015.6M991.6 852.7H1008.6M984.7 858.5H1001.7M977.9 864.7H994.9M971.2 871.0H988.2M964.6 877.0H981.6M958.0 883.2H975.0M951.6 889.1H968.6M945.2 894.4H962.2M938.9 899.2H955.9M932.7 903.7H949.7M926.6 908.1H943.6M920.5 912.3H937.5M914.5 916.4H931.5M908.6 920.3H925.6M902.8 923.9H919.8M897.0 927.4H914.0M891.3 930.6H908.3M885.7 933.3H902.7M880.2 935.6H897.2M874.7 937.7H891.7M869.2 939.7H886.2M863.9 941.7H880.9M858.6 944.1H875.6M853.3 946.6H870.3M848.2 949.3H865.2M843.0 951.9H860.0M838.0 954.5H855.0M833.0 956.8H850.0M828.0 959.2H845.0M823.1 961.4H840.1M818.3 963.5H835.3M813.5 965.3H830.5M808.8 966.9H825.8M804.1 968.2H821.1M799.5 969.5H816.5M794.9 970.8H811.9M790.4 972.3H807.4M785.9 973.8H802.9M781.5 975.4H798.5M777.1 977.0H794.1M772.8 978.5H789.8M768.5 979.9H785.5M764.2 981.3H781.2M760.0 982.7H777.0M755.9 984.1H772.9M751.8 985.2H768.8M747.7 986.3H764.7M743.7 987.1H760.7M739.7 987.8H756.7M735.7 988.4H752.7M731.8 988.9H748.8M728.0 989.3H745.0M724.1 989.8H741.1M720.3 990.2H737.3M716.6 990.7H733.6M712.8 991.1H729.8M709.2 991.6H726.2M705.5 992.1H722.5M701.9 992.7H718.9M698.3 993.2H715.3M694.8 993.7H711.8M691.3 994.2H708.3M687.8 994.7H704.8M684.4 995.2H701.4M680.9 995.7H697.9M677.6 996.2H694.6M674.2 996.7H691.2M670.9 997.2H687.9M667.6 997.6H684.6M664.4 998.1H681.4M661.1 998.6H678.1M657.9 999.1H674.9M654.8 999.5H671.8M651.6 1000.0H668.6M648.5 1000.4H665.5M645.4 1000.8H662.4M642.4 1001.3H659.4M639.3 1001.7H656.3M636.3 1002.1H653.3M633.4 1002.6H650.4M630.4 1003.0H647.4M627.5 1003.4H644.5M624.6 1003.8H641.6M621.7 1004.2H638.7M618.9 1004.5H635.9M616.0 1004.9H633.0M613.2 1005.3H630.2M610.5 1005.7H627.5M607.7 1006.0H624.7M605.0 1006.3H622.0M602.3 1006.7H619.3M599.6 1007.0H616.6M596.9 1007.3H613.9M594.3 1007.7H611.3M591.7 1008.0H608.7M589.1 1008.3H606.1M586.5 1008.5H603.5M583.9 1008.8H600.9M581.4 1009.1H598.4M578.9 1009.4H595.9M576.4 1009.6H593.4M573.9 1009.8H590.9M571.4 1010.1H588.4M569.0 1010.3H586.0M566.6 1010.5H583.6M564.2 1010.8H581.2M561.8 1011.0H578.8M559.5 1011.2H576.5M557.1 1011.4H574.1M554.8 1011.6H571.8M552.5 1011.8H569.5M550.2 1012.0H567.2M547.9 1012.1H564.9M545.7 1012.3H562.7M543.4 1012.5H560.4M541.2 1012.7H558.2M539.0 1012.8H556.0M536.8 1013.0H553.8M534.7 1013.2H551.7M532.5 1013.3H549.5M530.4 1013.5H547.4M528.3 1013.7H545.3M526.2 1013.8H543.2M524.1 1014.0H541.1M522.0 1014.2H539.0M519.9 1014.3H536.9M517.9 1014.5H534.9M515.9 1014.7H532.9M513.8 1014.8H530.8M511.8 1015.0H528.8M509.9 1015.1H526.9M507.9 1015.3H524.9M505.9 1015.5H522.9M504.0 1015.6H521.0M502.0 1015.8H519.0M500.1 1015.9H517.1M498.2 1016.1H515.2M496.3 1016.2H513.3M494.5 1016.4H511.5M492.6 1016.5H509.6M490.7 1016.7H507.7M488.9 1016.8H505.9M487.1 1017.0H504.1M485.3 1017.1H502.3M483.5 1017.3H500.5M481.7 1017.4H498.7M479.9 1017.6H496.9M478.1 1017.7H495.1M476.4 1017.8H493.4M474.6 1018.0H491.6M472.9 1018.1H489.9M471.2 1018.3H488.2M469.5 1018.4H486.5M467.8 1018.5H484.8M466.1 1018.7H483.1M464.4 1018.8H481.4M462.8 1018.9H479.8M461.1 1019.0H478.1M459.5 1019.2H476.5M457.9 1019.3H474.9M456.2 1019.4H473.2M454.6 1019.6H471.6M453.0 1019.7H470.0M451.4 1019.8H468.4M449.9 1019.9H466.9M448.3 1020.0H465.3M446.7 1020.2H463.7M445.2 1020.3H462.2M443.7 1020.4H460.7M442.1 1020.5H459.1M440.6 1020.6H457.6M439.1 1020.7H456.1M437.6 1020.8H454.6M436.1 1020.9H453.1M434.6 1021.1H451.6M433.2 1021.2H450.2M431.7 1021.3H448.7M430.2 1021.4H447.2M428.8 1021.5H445.8M427.4 1021.6H444.4M425.9 1021.7H442.9M424.5 1021.8H441.5M423.1 1021.9H440.1M421.7 1022.0H438.7M420.3 1022.1H437.3M418.9 1022.2H435.9M417.6 1022.3H434.6M416.2 1022.4H433.2M414.8 1022.5H431.8M413.5 1022.6H430.5M412.1 1022.7H429.1M410.8 1022.7H427.8M409.5 1022.8H426.5M408.1 1022.9H425.1M406.8 1023.0H423.8M405.5 1023.1H422.5M404.2 1023.2H421.2M402.9 1023.3H419.9M401.6 1023.3H418.6M400.4 1023.4H417.4M399.1 1023.5H416.1M397.8 1023.6H414.8M396.6 1023.7H413.6M395.3 1023.8H412.3M394.1 1023.8H411.1M392.9 1023.9H409.9M391.6 1024.0H408.6M390.4 1024.1H407.4M389.2 1024.1H406.2M388.0 1024.2H405.0M386.8 1024.3H403.8M385.6 1024.3H402.6M384.4 1024.4H401.4M383.3 1024.5H400.3M382.1 1024.5H399.1M380.9 1024.6H397.9M379.8 1024.7H396.8M378.6 1024.7H395.6M377.5 1024.8H394.5M376.3 1024.8H393.3M375.2 1024.9H392.2M374.1 1025.0H391.1M372.9 1025.0H389.9M371.8 1025.1H388.8M370.7 1025.2H387.7M369.6 1025.2H386.6M368.5 1025.3H385.5M367.4 1025.3H384.4M366.3 1025.4H383.3M365.2 1025.5H382.2M364.2 1025.5H381.2M363.1 1025.6H380.1M362.0 1025.6H379.0M361.0 1025.7H378.0M359.9 1025.7H376.9M358.9 1025.8H375.9M357.8 1025.8H374.8M356.8 1025.9H373.8M355.8 1025.9H372.8M354.7 1026.0H371.7M353.7 1026.0H370.7M352.7 1026.1H369.7M351.7 1026.1H368.7M350.7 1026.2H367.7M349.7 1026.2H366.7M348.7 1026.3H365.7M347.7 1026.3H364.7M346.7 1026.4H363.7M345.7 1026.4H362.7M344.8 1026.5H361.8M343.8 1026.5H360.8M342.8 1026.6H359.8M341.9 1026.6H358.9M340.9 1026.7H357.9M340.0 1026.7H357.0M339.0 1026.7H356.0M338.1 1026.8H355.1M337.1 1026.8H354.1M336.2 1026.9H353.2M335.3 1026.9H352.3M334.4 1027.0H351.4M333.4 1027.0H350.4M332.5 1027.0H349.5M331.6 1027.1H348.6M330.7 1027.1H347.7M329.8 1027.2H346.8M328.9 1027.2H345.9M328.0 1027.3H345.0M327.1 1027.3H344.1M326.2 1027.3H343.2M325.4 1027.4H342.4M324.5 1027.4H341.5M323.6 1027.5H340.6M322.7 1027.5H339.7M321.9 1027.5H338.9M321.0 1027.6H338.0M320.2 1027.6H337.2M319.3 1027.7H336.3M318.5 1027.7H335.5M317.6 1027.7H334.6M316.8 1027.8H333.8M316.0 1027.8H333.0M315.1 1027.9H332.1M314.3 1027.9H331.3M313.5 1027.9H330.5M312.7 1028.0H329.7M311.8 1028.0H328.8M311.0 1028.0H328.0M310.2 1028.1H327.2M309.4 1028.1H326.4M308.6 1028.1H325.6M307.8 1028.2H324.8M307.0 1028.2H324.0M306.2 1028.2H323.2M305.4 1028.3H322.4M304.7 1028.3H321.7M303.9 1028.4H320.9M303.1 1028.4H320.1M302.3 1028.4H319.3M301.6 1028.5H318.6M300.8 1028.5H317.8M300.0 1028.5H317.0M299.3 1028.6H316.3M298.5 1028.6H315.5M297.8 1028.6H314.8M297.0 1028.7H314.0M296.3 1028.7H313.3M295.5 1028.7H312.5M294.8 1028.8H311.8M294.1 1028.8H311.1M293.3 1028.8H310.3M292.6 1028.8H309.6M291.9 1028.9H308.9M291.1 1028.9H308.1M290.4 1028.9H307.4M289.7 1029.0H306.7M289.0 1029.0H306.0M288.3 1029.0H305.3M287.6 1029.1H304.6M286.9 1029.1H303.9M286.2 1029.1H303.2M285.5 1029.2H302.5M284.8 1029.2H301.8M284.1 1029.2H301.1M283.4 1029.2H300.4M282.7 1029.3H299.7M282.0 1029.3H299.0M281.3 1029.3H298.3M280.7 1029.4H297.7M280.0 1029.4H297.0M279.3 1029.4H296.3M278.6 1029.4H295.6M278.0 1029.5H295.0M277.3 1029.5H294.3M276.6 1029.5H293.6M276.5 1029.6H293.0M276.5 1029.6H292.3M276.5 1029.6H291.7M276.5 1029.6H291.0M276.5 1029.7H290.4M276.5 1029.7H289.7M276.5 1029.7H289.1M276.5 1029.8H288.4M276.5 1029.8H287.8M276.5 1029.8H287.2M276.5 1029.8H286.5M276.5 1029.9H285.9M276.5 1029.9H285.3M276.5 1029.9H284.7M276.5 1029.9H284.0M276.5 1030.0H283.4M276.5 1030.0H282.8" stroke="#008000" stroke-width="3"/>
<path d="M274.0 1030.0L280.5 1029.7M280.5 1029.7L297.5 1029.0M297.5 1029.0L321.4 1028.0M321.4 1028.0L348.9 1026.7M348.9 1026.7L376.3 1025.3M376.3 1025.3L400.0 1024.0M400.0 1024.0L420.5 1022.7M420.5 1022.7L441.1 1021.2M441.1 1021.2L461.7 1019.7M461.7 1019.7L481.9 1018.1M481.9 1018.1L501.4 1016.5M501.4 1016.5L520.0 1015.0M520.0 1015.0L534.1 1013.9M534.1 1013.9L547.3 1012.9M547.3 1012.9L560.0 1011.9M560.0 1011.9L572.8 1010.8M572.8 1010.8L585.9 1009.5M585.9 1009.5L600.0 1008.0M600.0 1008.0L619.5 1005.6M619.5 1005.6L640.9 1002.7M640.9 1002.7L663.0 999.5M663.0 999.5L684.5 996.4M684.5 996.4L703.9 993.6M703.9 993.6L720.0 991.3" stroke="#008000" stroke-width="6.5" stroke-linecap="round"/><path d="M720.0 991.3L727.0 990.4M727.0 990.4L733.3 989.7M733.3 989.7L739.0 989.1M739.0 989.1L744.2 988.4" stroke="#008000" stroke-width="7.0" stroke-linecap="round"/><path d="M744.2 988.4L749.3 987.7M749.3 987.7L754.4 986.7M754.4 986.7L758.5 985.7M758.5 985.7L762.5 984.6M762.5 984.6L766.2 983.5M766.2 983.5L769.9 982.3M769.9 982.3L773.6 981.0" stroke="#008000" stroke-width="7.5" stroke-linecap="round"/><path d="M773.6 981.0L777.4 979.8M777.4 979.8L781.2 978.5M781.2 978.5L785.0 977.2M785.0 977.2L788.9 975.8M788.9 975.8L792.7 974.4M792.7 974.4L796.5 973.1M796.5 973.1L800.3 971.8M800.3 971.8L804.1 970.6" stroke="#008000" stroke-width="8.0" stroke-linecap="round"/><path d="M804.1 970.6L807.9 969.5M807.9 969.5L811.8 968.5M811.8 968.5L815.6 967.4M815.6 967.4L819.4 966.2M819.4 966.2L823.2 964.9M823.2 964.9L827.1 963.4M827.1 963.4L830.9 961.7M830.9 961.7L834.8 960.0" stroke="#008000" stroke-width="8.5" stroke-linecap="round"/><path d="M834.8 960.0L838.6 958.2M838.6 958.2L842.4 956.4M842.4 956.4L846.2 954.6M846.2 954.6L850.0 952.7M850.0 952.7L853.7 950.8M853.7 950.8L857.4 948.9M857.4 948.9L861.2 946.9M861.2 946.9L865.1 945.0M865.1 945.0L869.1 943.1M869.1 943.1L873.9 941.1M873.9 941.1L878.8 939.3M878.8 939.3L883.8 937.5M883.8 937.5L889.1 935.5M889.1 935.5L894.4 933.2M894.4 933.2L900.0 930.5M900.0 930.5L908.4 925.7M908.4 925.7L917.6 920.0M917.6 920.0L927.2 913.6M927.2 913.6L936.6 907.1M936.6 907.1L945.3 900.8M945.3 900.8L952.9 895.0M952.9 895.0L957.4 891.4M957.4 891.4L961.4 887.9M961.4 887.9L965.1 884.5M965.1 884.5L968.6 881.2M968.6 881.2L972.1 877.9M972.1 877.9L975.8 874.5M975.8 874.5L979.6 871.0M979.6 871.0L983.4 867.5M983.4 867.5L987.2 864.0M987.2 864.0L991.0 860.5M991.0 860.5L994.8 857.1M994.8 857.1L998.7 853.8M998.7 853.8L1002.5 850.8M1002.5 850.8L1006.3 847.8M1006.3 847.8L1010.1 845.0M1010.1 845.0L1013.9 842.2M1013.9 842.2L1017.7 839.4M1017.7 839.4L1021.6 836.7M1021.6 836.7L1025.4 834.1M1025.4 834.1L1029.2 831.5M1029.2 831.5L1033.0 828.9M1033.0 828.9L1036.8 826.5M1036.8 826.5L1040.6 824.1M1040.6 824.1L1044.5 821.8M1044.5 821.8L1048.3 819.7M1048.3 819.7L1052.0 817.7M1052.0 817.7L1055.8 815.8M1055.8 815.8L1059.6 813.9M1059.6 813.9L1063.5 812.1M1063.5 812.1L1067.3 810.4M1067.3 810.4L1071.1 808.8M1071.1 808.8L1074.9 807.4M1074.9 807.4L1078.7 806.1M1078.7 806.1L1082.5 804.7M1082.5 804.7L1086.3 803.1M1086.3 803.1L1090.0 801.2M1090.0 801.2L1093.9 798.7M1093.9 798.7L1097.7 795.9M1097.7 795.9L1101.4 792.9M1101.4 792.9L1105.2 789.8M1105.2 789.8L1108.9 786.6M1108.9 786.6L1112.7 783.5M1112.7 783.5L1116.8 780.3M1116.8 780.3L1120.9 777.1M1120.9 777.1L1125.0 773.8M1125.0 773.8L1129.2 770.5M1129.2 770.5L1133.2 767.1M1133.2 767.1L1137.2 763.8M1137.2 763.8L1140.9 760.6M1140.9 760.6L1144.6 757.5M1144.6 757.5L1148.3 754.3M1148.3 754.3L1151.8 751.0M1151.8 751.0L1155.3 747.7M1155.3 747.7L1158.5 744.2M1158.5 744.2L1161.5 740.6M1161.5 740.6L1164.4 736.8M1164.4 736.8L1167.2 732.9M1167.2 732.9L1169.8 729.0M1169.8 729.0L1172.4 725.1M1172.4 725.1L1174.8 721.3M1174.8 721.3L1176.9 718.0M1176.9 718.0L1178.8 714.7M1178.8 714.7L1180.6 711.5M1180.6 711.5L1182.4 708.3M1182.4 708.3L1184.2 705.0M1184.2 705.0L1186.2 701.7M1186.2 701.7L1188.4 698.2M1188.4 698.2L1190.7 694.6M1190.7 694.6L1193.0 691.0M1193.0 691.0L1195.3 687.4M1195.3 687.4L1197.7 683.7M1197.7 683.7L1200.0 680.0M1200.0 680.0L1202.5 675.9M1202.5 675.9L1205.0 671.7M1205.0 671.7L1207.6 667.4M1207.6 667.4L1210.1 663.2M1210.1 663.2L1212.6 659.0M1212.6 659.0L1215.0 655.0M1215.0 655.0L1217.1 651.6M1217.1 651.6L1219.2 648.4M1219.2 648.4L1221.2 645.3M1221.2 645.3L1223.2 642.1M1223.2 642.1L1225.1 638.7M1225.1 638.7L1227.0 635.0M1227.0 635.0L1229.3 629.8M1229.3 629.8L1231.5 624.0M1231.5 624.0L1233.7 618.0M1233.7 618.0L1235.8 611.9M1235.8 611.9L1237.9 605.8M1237.9 605.8L1240.0 600.0M1240.0 600.0L1242.0 594.8M1242.0 594.8L1244.1 589.7M1244.1 589.7L1246.1 584.7M1246.1 584.7L1248.2 579.7M1248.2 579.7L1250.1 574.8M1250.1 574.8L1252.0 570.0M1252.0 570.0L1253.6 565.8M1253.6 565.8L1255.0 561.8M1255.0 561.8L1256.4 557.9M1256.4 557.9L1257.8 553.9M1257.8 553.9L1259.3 549.6M1259.3 549.6L1261.0 545.0M1261.0 545.0L1263.6 537.7M1263.6 537.7L1266.4 529.8M1266.4 529.8L1269.4 521.5M1269.4 521.5L1272.5 512.7M1272.5 512.7L1275.7 503.7M1275.7 503.7L1279.0 494.5M1279.0 494.5L1283.3 482.5M1283.3 482.5L1288.0 469.7M1288.0 469.7L1292.9 456.4M1292.9 456.4L1297.6 443.2M1297.6 443.2L1301.9 430.5M1301.9 430.5L1305.6 418.9M1305.6 418.9L1307.7 411.0M1307.7 411.0L1309.4 403.5M1309.4 403.5L1310.9 396.2M1310.9 396.2L1312.4 389.3M1312.4 389.3L1314.0 382.6M1314.0 382.6L1316.0 376.0M1316.0 376.0L1318.0 370.3M1318.0 370.3L1320.0 364.8M1320.0 364.8L1322.2 359.4M1322.2 359.4L1324.5 354.3M1324.5 354.3L1327.1 349.4" stroke="#008000" stroke-width="9.0" stroke-linecap="round"/><path d="M1327.1 349.4L1330.0 345.0M1330.0 345.0L1332.9 341.4M1332.9 341.4L1336.1 338.2M1336.1 338.2L1339.4 335.2" stroke="#008000" stroke-width="9.5" stroke-linecap="round"/><path d="M1339.4 335.2L1342.9 332.4M1342.9 332.4L1346.5 329.7M1346.5 329.7L1350.0 327.0M1350.0 327.0L1353.5 324.4" stroke="#008000" stroke-width="10.0" stroke-linecap="round"/><path d="M1353.5 324.4L1357.1 322.0M1357.1 322.0L1360.7 319.6M1360.7 319.6L1364.3 317.3M1364.3 317.3L1367.8 315.1M1367.8 315.1L1371.0 313.0M1371.0 313.0L1373.3 311.4M1373.3 311.4L1375.5 309.9M1375.5 309.9L1377.7 308.4M1377.7 308.4L1379.7 306.9M1379.7 306.9L1381.8 305.5M1381.8 305.5L1384.0 304.0" stroke="#008000" stroke-width="10.5" stroke-linecap="round"/><path d="M1384.0 304.0L1386.3 302.5M1386.3 302.5L1388.7 300.9M1388.7 300.9L1391.0 299.4M1391.0 299.4L1393.4 297.9M1393.4 297.9L1395.7 296.4M1395.7 296.4L1398.0 295.0M1398.0 295.0L1400.1 293.7M1400.1 293.7L1402.1 292.4M1402.1 292.4L1404.1 291.2M1404.1 291.2L1406.1 290.0M1406.1 290.0L1408.1 288.7M1408.1 288.7L1410.0 287.5M1410.0 287.5L1411.7 286.3M1411.7 286.3L1413.3 285.2M1413.3 285.2L1414.9 284.0M1414.9 284.0L1416.5 282.8M1416.5 282.8L1418.2 281.6M1418.2 281.6L1420.0 280.5M1420.0 280.5L1422.5 279.1M1422.5 279.1L1425.3 277.7M1425.3 277.7L1428.1 276.3M1428.1 276.3L1431.1 275.0M1431.1 275.0L1434.1 273.7" stroke="#008000" stroke-width="11.0" stroke-linecap="round"/><path d="M1434.1 273.7L1437.0 272.5M1437.0 272.5L1440.0 271.4M1440.0 271.4L1443.0 270.4M1443.0 270.4L1446.0 269.5M1446.0 269.5L1449.1 268.7M1449.1 268.7L1452.1 267.8M1452.1 267.8L1455.0 267.0M1455.0 267.0L1457.5 266.3M1457.5 266.3L1460.0 265.5M1460.0 265.5L1462.4 264.9M1462.4 264.9L1464.9 264.2M1464.9 264.2L1467.4 263.6M1467.4 263.6L1470.0 263.0M1470.0 263.0L1473.2 262.4M1473.2 262.4L1476.5 261.8M1476.5 261.8L1479.9 261.2M1479.9 261.2L1483.4 260.7" stroke="#008000" stroke-width="11.5" stroke-linecap="round"/><path d="M1483.4 260.7L1486.8 260.3M1486.8 260.3L1490.0 260.0M1490.0 260.0L1493.1 259.9M1493.1 259.9L1496.6 259.8M1496.6 259.8L1500.1 259.8M1500.1 259.8L1503.1 259.9M1503.1 259.9L1505.2 260.0M1505.2 260.0L1506.0 260.0" stroke="#008000" stroke-width="12.0" stroke-linecap="round"/>
<path d="M1482.9 240.9H1499.9M1468.0 242.7H1485.0M1453.3 246.4H1470.3M1439.0 252.1H1456.0M1424.8 259.0H1441.8M1411.0 267.2H1428.0M1397.4 273.0H1414.4M1384.1 280.2H1401.1M1371.0 287.5H1388.0M1358.2 294.6H1375.2M1345.5 301.7H1362.5M1333.1 308.5H1350.1M1321.0 318.6H1338.0M1309.0 335.9H1326.0M1297.3 362.7H1314.3M1285.7 399.4H1302.7M1274.4 436.0H1291.4M1263.2 470.5H1280.2M1252.2 505.3H1269.2M1241.5 540.7H1258.5M1230.8 569.2H1247.8M1220.4 592.7H1237.4M1210.1 614.7H1227.1M1200.0 635.2H1217.0M1190.1 653.7H1207.1M1180.3 667.7H1197.3M1170.7 676.8H1187.7M1161.2 686.4H1178.2M1151.9 699.6H1168.9M1142.7 714.8H1159.7M1133.7 725.7H1150.7M1124.7 735.2H1141.7M1116.0 743.9H1133.0M1107.3 751.5H1124.3M1098.8 757.7H1115.8M1090.4 762.7H1107.4M1082.2 767.3H1099.2M1074.0 772.1H1091.0M1066.0 777.6H1083.0M1058.1 783.4H1075.1M1050.3 788.2H1067.3M1042.6 792.7H1059.6M1035.0 797.2H1052.0M1027.5 801.5H1044.5M1020.1 805.9H1037.1M1012.8 810.6H1029.8M1005.7 815.9H1022.7M998.6 821.6H1015.6M991.6 827.5H1008.6M984.7 833.5H1001.7M977.9 839.6H994.9M971.2 845.8H988.2M964.6 851.8H981.6M958.0 857.7H975.0M951.6 863.5H968.6M945.2 869.2H962.2M938.9 874.7H955.9M932.7 880.0H949.7M926.6 885.1H943.6M920.5 890.1H937.5M914.5 895.1H931.5M908.6 900.1H925.6M902.8 904.9H919.8M897.0 909.4H914.0M891.3 913.4H908.3M885.7 916.7H902.7M880.2 919.5H897.2M874.7 922.2H891.7M869.2 925.3H886.2M863.9 928.5H880.9M858.6 931.8H875.6M853.3 935.0H870.3M848.2 938.0H865.2M843.0 940.7H860.0M838.0 943.2H855.0M833.0 945.7H850.0M828.0 948.0H845.0M823.1 950.1H840.1M818.3 952.1H835.3M813.5 954.0H830.5M808.8 955.8H825.8M804.1 957.7H821.1M799.5 959.5H816.5M794.9 961.4H811.9M790.4 963.2H807.4M785.9 965.0H802.9M781.5 966.7H798.5M777.1 968.4H794.1M772.8 970.0H789.8M768.5 971.5H785.5M764.2 972.9H781.2M760.0 974.3H777.0M755.9 975.7H772.9M751.8 977.1H768.8M747.7 978.4H764.7M743.7 979.7H760.7M739.7 980.8H756.7M735.7 981.8H752.7M731.8 982.6H748.8M728.0 983.2H745.0M724.1 983.6H741.1M720.3 984.0H737.3M716.6 984.4H733.6M712.8 984.8H729.8M709.2 985.3H726.2M705.5 985.8H722.5M701.9 986.3H718.9M698.3 986.8H715.3M694.8 987.3H711.8M691.3 987.8H708.3M687.8 988.2H704.8M684.4 988.7H701.4M680.9 989.2H697.9M677.6 989.7H694.6M674.2 990.1H691.2M670.9 990.6H687.9M667.6 991.0H684.6M664.4 991.4H681.4M661.1 991.9H678.1M657.9 992.3H674.9M654.8 992.7H671.8M651.6 993.1H668.6M648.5 993.5H665.5M645.4 993.9H662.4M642.4 994.3H659.4M639.3 994.7H656.3M636.3 995.1H653.3M633.4 995.5H650.4M630.4 995.9H647.4M627.5 996.3H644.5M624.6 996.7H641.6M621.7 997.1H638.7M618.9 997.5H635.9M616.0 997.8H633.0M613.2 998.2H630.2M610.5 998.6H627.5M607.7 998.9H624.7M605.0 999.3H622.0M602.3 999.7H619.3M599.6 1000.0H616.6M596.9 1000.4H613.9M594.3 1000.8H611.3M591.7 1001.1H608.7M589.1 1001.5H606.1M586.5 1001.8H603.5M583.9 1002.2H600.9M581.4 1002.5H598.4M578.9 1002.8H595.9M576.4 1003.2H593.4M573.9 1003.5H590.9M571.4 1003.8H588.4M569.0 1004.2H586.0M566.6 1004.5H583.6M564.2 1004.8H581.2M561.8 1005.1H578.8M559.5 1005.5H576.5M557.1 1005.8H574.1M554.8 1006.1H571.8M552.5 1006.5H569.5M550.2 1006.8H567.2M547.9 1007.1H564.9M545.7 1007.5H562.7M543.4 1007.8H560.4M541.2 1008.1H558.2M539.0 1008.4H556.0M536.8 1008.7H553.8M534.7 1009.0H551.7M532.5 1009.3H549.5M530.4 1009.6H547.4M528.3 1009.9H545.3M526.2 1010.1H543.2M524.1 1010.4H541.1M522.0 1010.7H539.0M519.9 1010.9H536.9M517.9 1011.1H534.9M515.9 1011.3H532.9M513.8 1011.5H530.8M511.8 1011.8H528.8M509.9 1011.9H526.9M507.9 1012.1H524.9M505.9 1012.3H522.9M504.0 1012.5H521.0M502.0 1012.7H519.0M500.1 1012.8H517.1M498.2 1013.0H515.2M496.3 1013.2H513.3M494.5 1013.3H511.5M492.6 1013.5H509.6M490.7 1013.6H507.7M488.9 1013.8H505.9M487.1 1013.9H504.1M485.3 1014.0H502.3M483.5 1014.2H500.5M481.7 1014.3H498.7M479.9 1014.4H496.9M478.1 1014.6H495.1M476.4 1014.7H493.4M474.6 1014.8H491.6M472.9 1014.9H489.9M471.2 1015.1H488.2M469.5 1015.2H486.5M467.8 1015.3H484.8M466.1 1015.4H483.1M464.4 1015.5H481.4M462.8 1015.6H479.8M461.1 1015.7H478.1M459.5 1015.8H476.5M457.9 1016.0H474.9M456.2 1016.1H473.2M454.6 1016.2H471.6M453.0 1016.3H470.0M451.4 1016.4H468.4M449.9 1016.5H466.9M448.3 1016.6H465.3M446.7 1016.7H463.7M445.2 1016.8H462.2M443.7 1016.8H460.7M442.1 1016.9H459.1M440.6 1017.0H457.6M439.1 1017.1H456.1M437.6 1017.2H454.6M436.1 1017.3H453.1M434.6 1017.4H451.6M433.2 1017.5H450.2M431.7 1017.6H448.7M430.2 1017.7H447.2M428.8 1017.8H445.8M427.4 1017.8H444.4M425.9 1017.9H442.9M424.5 1018.0H441.5M423.1 1018.1H440.1M421.7 1018.2H438.7M420.3 1018.3H437.3M418.9 1018.3H435.9M417.6 1018.4H434.6M416.2 1018.5H433.2M414.8 1018.6H431.8M413.5 1018.7H430.5M412.1 1018.8H429.1M410.8 1018.8H427.8M409.5 1018.9H426.5M408.1 1019.0H425.1M406.8 1019.1H423.8M405.5 1019.2H422.5M404.2 1019.2H421.2M402.9 1019.3H419.9M401.6 1019.4H418.6M400.4 1019.5H417.4M399.1 1019.5H416.1M397.8 1019.6H414.8M396.6 1019.7H413.6M395.3 1019.8H412.3M394.1 1019.8H411.1M392.9 1019.9H409.9M391.6 1020.0H408.6M390.4 1020.1H407.4M389.2 1020.1H406.2M388.0 1020.2H405.0M386.8 1020.3H403.8M385.6 1020.3H402.6M384.4 1020.4H401.4M383.3 1020.5H400.3M382.1 1020.6H399.1M380.9 1020.6H397.9M379.8 1020.7H396.8M378.6 1020.8H395.6M377.5 1020.8H394.5M376.3 1020.9H393.3M375.2 1021.0H392.2M374.1 1021.0H391.1M372.9 1021.1H389.9M371.8 1021.2H388.8M370.7 1021.2H387.7M369.6 1021.3H386.6M368.5 1021.4H385.5M367.4 1021.4H384.4M366.3 1021.5H383.3M365.2 1021.6H382.2M364.2 1021.6H381.2M363.1 1021.7H380.1M362.0 1021.7H379.0M361.0 1021.8H378.0M359.9 1021.9H376.9M358.9 1021.9H375.9M357.8 1022.0H374.8M356.8 1022.0H373.8M355.8 1022.1H372.8M354.7 1022.1H371.7M353.7 1022.2H370.7M352.7 1022.3H369.7M351.7 1022.3H368.7M350.7 1022.4H367.7M349.7 1022.4H366.7M348.7 1022.5H365.7M347.7 1022.5H364.7M346.7 1022.6H363.7M345.7 1022.7H362.7M344.8 1022.7H361.8M343.8 1022.8H360.8M342.8 1022.8H359.8M341.9 1022.9H358.9M340.9 1022.9H357.9M340.0 1023.0H357.0M339.0 1023.0H356.0M338.1 1023.1H355.1M337.1 1023.1H354.1M336.2 1023.2H353.2M335.3 1023.2H352.3M334.4 1023.3H351.4M333.4 1023.3H350.4M332.5 1023.4H349.5M331.6 1023.4H348.6M330.7 1023.5H347.7M329.8 1023.5H346.8M328.9 1023.6H345.9M328.0 1023.6H345.0M327.1 1023.7H344.1M326.2 1023.7H343.2M325.4 1023.8H342.4M324.5 1023.8H341.5M323.6 1023.9H340.6M322.7 1023.9H339.7M321.9 1024.0H338.9M321.0 1024.0H338.0M320.2 1024.1H337.2M319.3 1024.1H336.3M318.5 1024.2H335.5M317.6 1024.2H334.6M316.8 1024.3H333.8M316.0 1024.3H333.0M315.1 1024.3H332.1M314.3 1024.4H331.3M313.5 1024.4H330.5M312.7 1024.5H329.7M311.8 1024.5H328.8M311.0 1024.6H328.0M310.2 1024.6H327.2M309.4 1024.7H326.4M308.6 1024.7H325.6M307.8 1024.7H324.8M307.0 1024.8H324.0M306.2 1024.8H323.2M305.4 1024.9H322.4M304.7 1024.9H321.7M303.9 1025.0H320.9M303.1 1025.0H320.1M302.3 1025.0H319.3M301.6 1025.1H318.6M300.8 1025.1H317.8M300.0 1025.2H317.0M299.3 1025.2H316.3M298.5 1025.2H315.5M297.8 1025.3H314.8M297.0 1025.3H314.0M296.3 1025.4H313.3M295.5 1025.4H312.5M294.8 1025.4H311.8M294.1 1025.5H311.1M293.3 1025.5H310.3M292.6 1025.6H309.6M291.9 1025.6H308.9M291.1 1025.6H308.1M290.4 1025.7H307.4M289.7 1025.7H306.7M289.0 1025.8H306.0M288.3 1025.8H305.3M287.6 1025.8H304.6M286.9 1025.9H303.9M286.2 1025.9H303.2M285.5 1025.9H302.5M284.8 1026.0H301.8M284.1 1026.0H301.1M283.4 1026.1H300.4M282.7 1026.1H299.7M282.0 1026.1H299.0M281.3 1026.2H298.3M280.7 1026.2H297.7M280.0 1026.2H297.0M279.3 1026.3H296.3M278.6 1026.3H295.6M278.0 1026.3H295.0M277.3 1026.4H294.3M276.6 1026.4H293.6M276.5 1026.4H293.0M276.5 1026.5H292.3M276.5 1026.5H291.7M276.5 1026.5H291.0M276.5 1026.6H290.4M276.5 1026.6H289.7M276.5 1026.7H289.1M276.5 1026.7H288.4M276.5 1026.7H287.8M276.5 1026.8H287.2M276.5 1026.8H286.5M276.5 1026.8H285.9M276.5 1026.9H285.3M276.5 1026.9H284.7M276.5 1026.9H284.0M276.5 1027.0H283.4M276.5 1027.0H282.8" stroke="#ff00ff" stroke-width="3"/>
<path d="M274.0 1027.0L280.5 1026.7M280.5 1026.7L297.5 1025.8M297.5 1025.8L321.4 1024.5M321.4 1024.5L348.9 1023.0M348.9 1023.0L376.3 1021.4M376.3 1021.4L400.0 1020.0M400.0 1020.0L420.7 1018.7M420.7 1018.7L442.0 1017.5M442.0 1017.5L463.2 1016.2M463.2 1016.2L483.7 1014.8M483.7 1014.8L502.8 1013.3M502.8 1013.3L520.0 1011.8M520.0 1011.8L530.2 1010.7M530.2 1010.7L539.4 1009.5M539.4 1009.5L548.1 1008.3M548.1 1008.3L556.5 1007.1M556.5 1007.1L564.8 1005.9M564.8 1005.9L573.5 1004.7M573.5 1004.7L582.4 1003.5M582.4 1003.5L591.3 1002.3M591.3 1002.3L600.2 1001.1M600.2 1001.1L609.2 999.9M609.2 999.9L618.1 998.7M618.1 998.7L627.0 997.5M627.0 997.5L636.0 996.3M636.0 996.3L645.2 995.1M645.2 995.1L654.3 993.9M654.3 993.9L663.3 992.7M663.3 992.7L672.1 991.5M672.1 991.5L680.6 990.4M680.6 990.4L687.6 989.4M687.6 989.4L694.6 988.5M694.6 988.5L701.3 987.5M701.3 987.5L707.9 986.6M707.9 986.6L714.1 985.8" stroke="#ff00ff" stroke-width="6.5" stroke-linecap="round"/><path d="M714.1 985.8L720.0 985.0M720.0 985.0L724.2 984.5M724.2 984.5L728.1 984.1M728.1 984.1L731.9 983.7M731.9 983.7L735.5 983.3M735.5 983.3L739.2 982.8M739.2 982.8L742.9 982.1M742.9 982.1L746.8 981.2" stroke="#ff00ff" stroke-width="7.0" stroke-linecap="round"/><path d="M746.8 981.2L750.6 980.1M750.6 980.1L754.4 979.0M754.4 979.0L758.3 977.7M758.3 977.7L762.1 976.5M762.1 976.5L765.9 975.2M765.9 975.2L769.7 973.9M769.7 973.9L773.6 972.7" stroke="#ff00ff" stroke-width="7.5" stroke-linecap="round"/><path d="M773.6 972.7L777.4 971.3M777.4 971.3L781.2 970.0M781.2 970.0L785.0 968.6M785.0 968.6L788.8 967.2M788.8 967.2L792.6 965.7M792.6 965.7L796.5 964.2M796.5 964.2L800.3 962.7M800.3 962.7L804.1 961.1" stroke="#ff00ff" stroke-width="8.0" stroke-linecap="round"/><path d="M804.1 961.1L808.0 959.5M808.0 959.5L811.8 958.0M811.8 958.0L815.6 956.5M815.6 956.5L819.5 955.0M819.5 955.0L823.3 953.5M823.3 953.5L827.1 952.0M827.1 952.0L830.9 950.4M830.9 950.4L834.7 948.8" stroke="#ff00ff" stroke-width="8.5" stroke-linecap="round"/><path d="M834.7 948.8L838.6 947.0M838.6 947.0L842.4 945.2M842.4 945.2L846.3 943.4M846.3 943.4L850.1 941.4M850.1 941.4L853.9 939.4M853.9 939.4L857.7 937.4M857.7 937.4L861.6 935.2M861.6 935.2L865.4 932.9M865.4 932.9L869.3 930.5M869.3 930.5L873.1 928.1M873.1 928.1L876.9 925.8M876.9 925.8L880.6 923.6M880.6 923.6L883.9 921.8M883.9 921.8L887.1 920.3M887.1 920.3L890.2 918.7M890.2 918.7L893.4 917.2M893.4 917.2L896.6 915.4M896.6 915.4L900.0 913.3M900.0 913.3L904.8 910.0M904.8 910.0L909.8 906.1M909.8 906.1L915.0 901.9M915.0 901.9L920.1 897.6M920.1 897.6L925.2 893.3M925.2 893.3L930.0 889.3M930.0 889.3L934.0 886.0M934.0 886.0L937.9 882.7M937.9 882.7L941.7 879.6M941.7 879.6L945.4 876.4M945.4 876.4L949.1 873.2M949.1 873.2L952.9 869.9M952.9 869.9L956.7 866.5M956.7 866.5L960.6 863.1M960.6 863.1L964.4 859.7M964.4 859.7L968.2 856.2M968.2 856.2L972.0 852.7M972.0 852.7L975.8 849.3M975.8 849.3L979.6 845.8M979.6 845.8L983.4 842.4M983.4 842.4L987.2 838.9M987.2 838.9L991.0 835.4M991.0 835.4L994.8 832.0M994.8 832.0L998.7 828.7M998.7 828.7L1002.5 825.5M1002.5 825.5L1006.3 822.3M1006.3 822.3L1010.0 819.2M1010.0 819.2L1013.9 816.1M1013.9 816.1L1017.7 813.2M1017.7 813.2L1021.6 810.4M1021.6 810.4L1025.4 807.9M1025.4 807.9L1029.2 805.5M1029.2 805.5L1033.0 803.3M1033.0 803.3L1036.8 801.1M1036.8 801.1L1040.7 798.9M1040.7 798.9L1044.5 796.6M1044.5 796.6L1048.4 794.3M1048.4 794.3L1052.4 792.0M1052.4 792.0L1056.3 789.6M1056.3 789.6L1060.2 787.3M1060.2 787.3L1063.9 785.1M1063.9 785.1L1067.3 782.9M1067.3 782.9L1069.6 781.3M1069.6 781.3L1071.6 779.8M1071.6 779.8L1073.5 778.3M1073.5 778.3L1075.4 776.9M1075.4 776.9L1077.6 775.3M1077.6 775.3L1080.0 773.6M1080.0 773.6L1084.6 770.8M1084.6 770.8L1090.0 767.7M1090.0 767.7L1095.8 764.5M1095.8 764.5L1101.7 761.1M1101.7 761.1L1107.5 757.6M1107.5 757.6L1112.7 754.0M1112.7 754.0L1117.2 750.4M1117.2 750.4L1121.5 746.7M1121.5 746.7L1125.7 742.8M1125.7 742.8L1129.7 738.9M1129.7 738.9L1133.5 734.9M1133.5 734.9L1137.2 731.1M1137.2 731.1L1140.3 727.8M1140.3 727.8L1143.2 724.6M1143.2 724.6L1146.0 721.4M1146.0 721.4L1148.6 718.1M1148.6 718.1L1151.2 714.8M1151.2 714.8L1153.6 711.5M1153.6 711.5L1155.7 708.3M1155.7 708.3L1157.6 704.9M1157.6 704.9L1159.4 701.5M1159.4 701.5L1161.1 698.2M1161.1 698.2L1163.0 695.0M1163.0 695.0L1165.0 692.0M1165.0 692.0L1167.0 689.4M1167.0 689.4L1169.1 687.0M1169.1 687.0L1171.3 684.7M1171.3 684.7L1173.5 682.5M1173.5 682.5L1175.8 680.3M1175.8 680.3L1178.0 678.0M1178.0 678.0L1180.3 675.7M1180.3 675.7L1182.7 673.5M1182.7 673.5L1185.1 671.3M1185.1 671.3L1187.5 669.1M1187.5 669.1L1189.8 666.7M1189.8 666.7L1192.0 664.0M1192.0 664.0L1194.5 660.5M1194.5 660.5L1196.9 656.6M1196.9 656.6L1199.3 652.6M1199.3 652.6L1201.5 648.4M1201.5 648.4L1203.8 644.2M1203.8 644.2L1206.0 640.0M1206.0 640.0L1208.3 635.7M1208.3 635.7L1210.5 631.4M1210.5 631.4L1212.6 627.1M1212.6 627.1L1214.8 622.7M1214.8 622.7L1216.9 618.3M1216.9 618.3L1219.0 614.0M1219.0 614.0L1221.0 609.8M1221.0 609.8L1222.9 605.7M1222.9 605.7L1224.9 601.6M1224.9 601.6L1226.8 597.4M1226.8 597.4L1228.7 593.2M1228.7 593.2L1230.7 588.7M1230.7 588.7L1233.1 583.3M1233.1 583.3L1235.6 577.7M1235.6 577.7L1238.2 571.9M1238.2 571.9L1240.7 566.0M1240.7 566.0L1243.2 560.1M1243.2 560.1L1245.4 554.3M1245.4 554.3L1247.4 548.6M1247.4 548.6L1249.2 543.0M1249.2 543.0L1251.0 537.3M1251.0 537.3L1252.7 531.6M1252.7 531.6L1254.4 525.8M1254.4 525.8L1256.2 520.0M1256.2 520.0L1258.1 513.8M1258.1 513.8L1260.1 507.5M1260.1 507.5L1262.1 501.1M1262.1 501.1L1264.0 494.7M1264.0 494.7L1266.0 488.3M1266.0 488.3L1268.0 482.0M1268.0 482.0L1270.0 475.8M1270.0 475.8L1272.0 469.6M1272.0 469.6L1274.0 463.4M1274.0 463.4L1276.0 457.2M1276.0 457.2L1278.0 451.1M1278.0 451.1L1280.0 445.0M1280.0 445.0L1281.9 439.2M1281.9 439.2L1283.7 433.5M1283.7 433.5L1285.4 427.8M1285.4 427.8L1287.2 422.0M1287.2 422.0L1289.1 416.1M1289.1 416.1L1291.0 410.0M1291.0 410.0L1293.4 402.3M1293.4 402.3L1295.8 394.0M1295.8 394.0L1298.3 385.6M1298.3 385.6L1300.9 377.2M1300.9 377.2L1303.4 369.3M1303.4 369.3L1306.0 362.0M1306.0 362.0L1307.9 357.0M1307.9 357.0L1309.8 352.2M1309.8 352.2L1311.7 347.7M1311.7 347.7L1313.6 343.3M1313.6 343.3L1315.7 339.1M1315.7 339.1L1318.0 335.0M1318.0 335.0L1320.3 331.2" stroke="#ff00ff" stroke-width="9.0" stroke-linecap="round"/><path d="M1320.3 331.2L1322.7 327.4" stroke="#ff00ff" stroke-width="9.5" stroke-linecap="round"/><path d="M1322.7 327.4L1325.2 323.8" stroke="#ff00ff" stroke-width="10.0" stroke-linecap="round"/><path d="M1325.2 323.8L1327.9 320.4" stroke="#ff00ff" stroke-width="10.5" stroke-linecap="round"/><path d="M1327.9 320.4L1330.8 317.1" stroke="#ff00ff" stroke-width="11.0" stroke-linecap="round"/><path d="M1330.8 317.1L1334.0 314.0" stroke="#ff00ff" stroke-width="11.5" stroke-linecap="round"/><path d="M1334.0 314.0L1337.7 311.1" stroke="#ff00ff" stroke-width="12.0" stroke-linecap="round"/><path d="M1337.7 311.1L1341.7 308.4" stroke="#ff00ff" stroke-width="13.0" stroke-linecap="round"/><path d="M1341.7 308.4L1346.0 306.0" stroke="#ff00ff" stroke-width="14.0" stroke-linecap="round"/><path d="M1346.0 306.0L1350.3 303.7" stroke="#ff00ff" stroke-width="14.5" stroke-linecap="round"/><path d="M1350.3 303.7L1354.7 301.4" stroke="#ff00ff" stroke-width="15.5" stroke-linecap="round"/><path d="M1354.7 301.4L1359.0 299.0" stroke="#ff00ff" stroke-width="16.5" stroke-linecap="round"/><path d="M1359.0 299.0L1363.2 296.6M1363.2 296.6L1367.3 294.2M1367.3 294.2L1371.5 291.9" stroke="#ff00ff" stroke-width="17.0" stroke-linecap="round"/><path d="M1371.5 291.9L1375.7 289.6M1375.7 289.6L1379.9 287.3M1379.9 287.3L1384.0 285.0M1384.0 285.0L1388.1 282.7M1388.1 282.7L1392.3 280.4M1392.3 280.4L1396.5 278.0" stroke="#ff00ff" stroke-width="17.5" stroke-linecap="round"/><path d="M1396.5 278.0L1400.6 275.8M1400.6 275.8L1404.5 273.8M1404.5 273.8L1408.0 272.0M1408.0 272.0L1410.2 271.0M1410.2 271.0L1412.2 270.2M1412.2 270.2L1414.1 269.5M1414.1 269.5L1416.0 268.8M1416.0 268.8L1417.9 268.0M1417.9 268.0L1420.0 267.0" stroke="#ff00ff" stroke-width="18.0" stroke-linecap="round"/><path d="M1420.0 267.0L1422.7 265.6M1422.7 265.6L1425.4 263.9M1425.4 263.9L1428.3 262.1M1428.3 262.1L1431.2 260.3M1431.2 260.3L1434.1 258.6M1434.1 258.6L1437.0 257.0M1437.0 257.0L1440.0 255.5M1440.0 255.5L1443.0 254.1M1443.0 254.1L1446.0 252.7" stroke="#ff00ff" stroke-width="18.5" stroke-linecap="round"/><path d="M1446.0 252.7L1449.1 251.4M1449.1 251.4L1452.1 250.2M1452.1 250.2L1455.0 249.0M1455.0 249.0L1457.5 248.0M1457.5 248.0L1460.0 247.1M1460.0 247.1L1462.4 246.2M1462.4 246.2L1464.9 245.4M1464.9 245.4L1467.4 244.7M1467.4 244.7L1470.0 244.0" stroke="#ff00ff" stroke-width="19.0" stroke-linecap="round"/><path d="M1470.0 244.0L1473.2 243.3M1473.2 243.3L1476.5 242.7M1476.5 242.7L1479.9 242.2M1479.9 242.2L1483.4 241.7M1483.4 241.7L1486.8 241.4M1486.8 241.4L1490.0 241.0M1490.0 241.0L1493.1 240.7" stroke="#ff00ff" stroke-width="19.5" stroke-linecap="round"/><path d="M1493.1 240.7L1496.6 240.5M1496.6 240.5L1500.1 240.3M1500.1 240.3L1503.1 240.1M1503.1 240.1L1505.2 240.0M1505.2 240.0L1506.0 240.0" stroke="#ff00ff" stroke-width="20.0" stroke-linecap="round"/>
<path d="M1480.4 128.8H1502.4M1465.5 135.0H1487.5M1450.8 142.9H1472.8M1436.5 151.8H1458.5M1422.3 156.7H1444.3M1408.5 164.1H1430.5M1394.9 192.8H1416.9M1381.6 214.4H1403.6M1368.5 230.4H1390.5M1355.7 245.0H1377.7M1343.0 257.9H1365.0M1330.6 269.8H1352.6M1318.5 287.2H1340.5M1306.5 305.4H1328.5M1294.8 325.3H1316.8M1283.2 366.4H1305.2M1271.9 403.2H1293.9M1260.7 430.8H1282.7M1249.7 461.7H1271.7M1239.0 487.5H1261.0M1228.3 510.9H1250.3M1217.9 533.7H1239.9M1207.6 555.8H1229.6M1197.5 574.6H1219.5M1187.6 585.9H1209.6M1177.8 597.4H1199.8M1168.2 608.9H1190.2M1158.7 618.7H1180.7M1149.4 627.6H1171.4M1140.2 635.9H1162.2M1131.2 643.6H1153.2M1122.2 651.2H1144.2M1113.5 658.5H1135.5M1104.8 665.1H1126.8M1096.3 671.1H1118.3M1087.9 676.5H1109.9M1079.7 681.5H1101.7M1071.5 686.3H1093.5M1063.5 691.1H1085.5M1055.6 695.8H1077.6M1047.8 700.5H1069.8M1040.1 705.1H1062.1M1032.5 709.5H1054.5M1025.0 714.0H1047.0M1017.6 718.5H1039.6M1010.3 723.0H1032.3M1003.2 727.6H1025.2M996.1 732.2H1018.1M989.1 736.8H1011.1M982.2 741.3H1004.2M975.4 745.8H997.4M968.7 750.1H990.7M962.1 754.4H984.1M955.5 758.7H977.5M949.1 762.9H971.1M942.7 766.9H964.7M936.4 770.6H958.4M930.2 774.0H952.2M924.1 777.2H946.1M918.0 780.0H940.0M912.0 782.8H934.0M906.1 785.4H928.1M900.3 788.1H922.3M894.5 790.6H916.5M888.8 793.1H910.8M883.2 795.5H905.2M877.7 797.9H899.7M872.2 800.2H894.2M866.7 802.4H888.7M861.4 804.6H883.4M856.1 806.8H878.1M850.8 808.8H872.8M845.7 810.9H867.7M840.5 812.9H862.5M835.5 814.8H857.5M830.5 816.7H852.5M825.5 818.5H847.5M820.6 820.3H842.6M815.8 822.1H837.8M811.0 823.8H833.0M806.3 825.5H828.3M801.6 827.1H823.6M797.0 828.7H819.0M792.4 830.3H814.4M787.9 831.8H809.9M783.4 833.2H805.4M779.0 834.7H801.0M774.6 836.1H796.6M770.3 837.5H792.3M766.0 838.8H788.0M761.7 840.2H783.7M757.5 841.5H779.5M753.4 842.8H775.4M749.3 844.1H771.3M745.2 845.3H767.2M741.2 846.6H763.2M737.2 847.8H759.2M733.2 849.0H755.2M729.3 850.2H751.3M725.5 851.3H747.5M721.6 852.5H743.6M717.8 853.6H739.8M714.1 854.7H736.1M710.3 855.8H732.3M706.7 856.9H728.7M703.0 857.9H725.0M699.4 858.9H721.4M695.8 860.0H717.8M692.3 861.0H714.3M688.8 861.9H710.8M685.3 862.9H707.3M681.9 863.9H703.9M678.4 864.8H700.4M675.1 865.7H697.1M671.7 866.6H693.7M668.4 867.6H690.4M665.1 868.4H687.1M661.9 869.3H683.9M658.6 870.2H680.6M655.4 871.0H677.4M652.3 871.9H674.3M649.1 872.7H671.1M646.0 873.5H668.0M642.9 874.3H664.9M639.9 875.1H661.9M636.8 875.9H658.8M633.8 876.7H655.8M630.9 877.4H652.9M627.9 878.2H649.9M625.0 878.9H647.0M622.1 879.7H644.1M619.2 880.4H641.2M616.4 881.1H638.4M613.5 881.9H635.5M610.7 882.6H632.7M608.0 883.3H630.0M605.2 884.0H627.2M602.5 884.6H624.5M599.8 885.3H621.8M597.1 886.0H619.1M594.4 886.7H616.4M591.8 887.3H613.8M589.2 888.0H611.2M586.6 888.7H608.6M584.0 889.3H606.0M581.4 889.9H603.4M578.9 890.6H600.9M576.4 891.2H598.4M573.9 891.8H595.9M571.4 892.4H593.4M568.9 893.1H590.9M566.5 893.7H588.5M564.1 894.3H586.1M561.7 894.8H583.7M559.3 895.4H581.3M557.0 896.0H579.0M554.6 896.6H576.6M552.3 897.2H574.3M550.0 897.7H572.0M547.7 898.3H569.7M545.4 898.9H567.4M543.2 899.4H565.2M540.9 900.0H562.9M538.7 900.5H560.7M536.5 901.1H558.5M534.3 901.6H556.3M532.2 902.2H554.2M530.0 902.7H552.0M527.9 903.2H549.9M525.8 903.8H547.8M523.7 904.3H545.7M521.6 904.8H543.6M519.5 905.4H541.5M517.4 905.9H539.4M515.4 906.4H537.4M513.4 907.0H535.4M511.3 907.5H533.3M509.3 908.0H531.3M507.4 908.5H529.4M505.4 909.1H527.4M503.4 909.6H525.4M501.5 910.1H523.5M499.5 910.6H521.5M497.6 911.1H519.6M495.7 911.6H517.7M493.8 912.1H515.8M492.0 912.6H514.0M490.1 913.1H512.1M488.2 913.6H510.2M486.4 914.1H508.4M484.6 914.6H506.6M482.8 915.1H504.8M481.0 915.6H503.0M479.2 916.0H501.2M477.4 916.5H499.4M475.6 917.0H497.6M473.9 917.5H495.9M472.1 917.9H494.1M470.4 918.4H492.4M468.7 918.9H490.7M467.0 919.3H489.0M465.3 919.8H487.3M463.6 920.2H485.6M461.9 920.7H483.9M460.3 921.1H482.3M458.6 921.6H480.6M457.0 922.0H479.0M455.4 922.4H477.4M453.7 922.9H475.7M452.1 923.3H474.1M450.5 923.7H472.5M448.9 924.1H470.9M447.4 924.6H469.4M445.8 925.0H467.8M444.2 925.4H466.2M442.7 925.8H464.7M441.2 926.2H463.2M439.6 926.6H461.6M438.1 927.0H460.1M436.6 927.5H458.6M435.1 927.9H457.1M433.6 928.3H455.6M432.1 928.6H454.1M430.7 929.0H452.7M429.2 929.4H451.2M427.7 929.8H449.7M426.3 930.2H448.3M424.9 930.6H446.9M423.4 931.0H445.4M422.0 931.4H444.0M420.6 931.7H442.6M419.2 932.1H441.2M417.8 932.5H439.8M416.4 932.9H438.4M415.1 933.2H437.1M413.7 933.6H435.7M412.3 934.0H434.3M411.0 934.3H433.0M409.6 934.7H431.6M408.3 935.0H430.3M407.0 935.4H429.0M405.6 935.8H427.6M404.3 936.1H426.3M403.0 936.5H425.0M401.7 936.8H423.7M400.4 937.1H422.4M399.1 937.5H421.1M397.9 937.8H419.9M396.6 938.2H418.6M395.3 938.5H417.3M394.1 938.8H416.1M392.8 939.2H414.8M391.6 939.5H413.6M390.4 939.8H412.4M389.1 940.2H411.1M387.9 940.5H409.9M386.7 940.8H408.7M385.5 941.1H407.5M384.3 941.4H406.3M383.1 941.8H405.1M381.9 942.1H403.9M380.8 942.4H402.8M379.6 942.7H401.6M378.4 943.0H400.4M377.3 943.3H399.3M376.1 943.6H398.1M375.0 943.9H397.0M373.8 944.2H395.8M372.7 944.5H394.7M371.6 944.8H393.6M370.4 945.1H392.4M369.3 945.4H391.3M368.2 945.7H390.2M367.1 946.0H389.1M366.0 946.3H388.0M364.9 946.6H386.9M363.8 946.9H385.8M362.7 947.2H384.7M361.7 947.4H383.7M360.6 947.7H382.6M359.5 948.0H381.5M358.5 948.3H380.5M357.4 948.6H379.4M356.4 948.8H378.4M355.3 949.1H377.3M354.3 949.4H376.3M353.3 949.7H375.3M352.2 949.9H374.2M351.2 950.2H373.2M350.2 950.5H372.2M349.2 950.7H371.2M348.2 951.0H370.2M347.2 951.3H369.2M346.2 951.5H368.2M345.2 951.8H367.2M344.2 952.1H366.2M343.2 952.3H365.2M342.3 952.6H364.3M341.3 952.9H363.3M340.3 953.1H362.3M339.4 953.4H361.4M338.4 953.6H360.4M337.5 953.9H359.5M336.5 954.1H358.5M335.6 954.4H357.6M334.6 954.6H356.6M333.7 954.9H355.7M332.8 955.1H354.8M331.9 955.4H353.9M330.9 955.6H352.9M330.0 955.9H352.0M329.1 956.1H351.1M328.2 956.4H350.2M327.3 956.6H349.3M326.4 956.9H348.4M325.5 957.1H347.5M324.6 957.3H346.6M323.7 957.6H345.7M322.9 957.8H344.9M322.0 958.1H344.0M321.1 958.3H343.1M320.2 958.5H342.2M319.4 958.8H341.4M318.5 959.0H340.5M317.7 959.2H339.7M316.8 959.5H338.8M316.0 959.7H338.0M315.1 959.9H337.1M314.3 960.2H336.3M313.5 960.4H335.5M312.6 960.6H334.6M311.8 960.8H333.8M311.0 961.1H333.0M310.2 961.3H332.2M309.3 961.5H331.3M308.5 961.8H330.5M307.7 962.0H329.7M306.9 962.2H328.9M306.1 962.4H328.1M305.3 962.6H327.3M304.5 962.9H326.5M303.7 963.1H325.7M302.9 963.3H324.9M302.2 963.5H324.2M301.4 963.7H323.4M300.6 963.9H322.6M299.8 964.2H321.8M299.1 964.4H321.1M298.3 964.6H320.3M297.5 964.8H319.5M296.8 965.0H318.8M296.0 965.2H318.0M295.3 965.4H317.3M294.5 965.6H316.5M293.8 965.8H315.8M293.0 966.1H315.0M292.3 966.3H314.3M291.6 966.5H313.6M290.8 966.7H312.8M290.1 966.9H312.1M289.4 967.1H311.4M288.6 967.3H310.6M287.9 967.5H309.9M287.2 967.7H309.2M286.5 967.9H308.5M285.8 968.1H307.8M285.1 968.3H307.1M284.4 968.5H306.4M283.7 968.7H305.7M283.0 968.9H305.0M282.3 969.0H304.3M281.6 969.2H303.6M280.9 969.4H302.9M280.2 969.6H302.2M279.5 969.8H301.5M278.8 970.0H300.8M278.2 970.2H300.2M277.5 970.4H299.5M276.8 970.6H298.8M276.5 970.8H298.1M276.5 970.9H297.5M276.5 971.1H296.8M276.5 971.3H296.1M276.5 971.5H295.5M276.5 971.7H294.8M276.5 971.9H294.2M276.5 972.1H293.5M276.5 972.2H292.9M276.5 972.4H292.2M276.5 972.6H291.6M276.5 972.8H290.9M276.5 973.0H290.3M276.5 973.1H289.7M276.5 973.3H289.0M276.5 973.5H288.4M276.5 973.7H287.8M276.5 973.8H287.2M276.5 974.0H286.5M276.5 974.2H285.9" stroke="#00ff00" stroke-width="3"/>
<path d="M274.5 974.3L277.6 973.4M277.6 973.4L285.6 971.2M285.6 971.2L297.0 968.0M297.0 968.0L310.2 964.3M310.2 964.3L323.4 960.7M323.4 960.7L335.0 957.5M335.0 957.5L345.7 954.6M345.7 954.6L356.5 951.7M356.5 951.7L367.3 948.9M367.3 948.9L378.2 946.0M378.2 946.0L389.1 943.1M389.1 943.1L400.0 940.2M400.0 940.2L410.8 937.3M410.8 937.3L421.7 934.4M421.7 934.4L432.5 931.5M432.5 931.5L443.3 928.6M443.3 928.6L454.2 925.7M454.2 925.7L465.0 922.8M465.0 922.8L475.8 919.9M475.8 919.9L486.7 917.0M486.7 917.0L497.5 914.1M497.5 914.1L508.3 911.2M508.3 911.2L519.2 908.3M519.2 908.3L530.0 905.5M530.0 905.5L540.8 902.7M540.8 902.7L551.6 900.0M551.6 900.0L562.4 897.4M562.4 897.4L573.3 894.7M573.3 894.7L584.1 892.0M584.1 892.0L595.0 889.3M595.0 889.3L606.2 886.5M606.2 886.5L617.6 883.6M617.6 883.6L629.0 880.7M629.0 880.7L640.3 877.8M640.3 877.8L651.4 875.0M651.4 875.0L662.0 872.2M662.0 872.2L670.9 869.8M670.9 869.8L679.5 867.5M679.5 867.5L688.0 865.2M688.0 865.2L696.3 862.9M696.3 862.9L704.6 860.6M704.6 860.6L713.0 858.2M713.0 858.2L721.5 855.7M721.5 855.7L730.0 853.2M730.0 853.2L738.5 850.7M738.5 850.7L747.0 848.1M747.0 848.1L755.5 845.5M755.5 845.5L764.0 842.9M764.0 842.9L772.5 840.2M772.5 840.2L781.0 837.5M781.0 837.5L789.5 834.8M789.5 834.8L798.0 832.1M798.0 832.1L806.5 829.2M806.5 829.2L815.0 826.3M815.0 826.3L823.5 823.3M823.5 823.3L832.0 820.2M832.0 820.2L840.6 817.0M840.6 817.0L849.0 813.8M849.0 813.8L857.5 810.5M857.5 810.5L866.0 807.2M866.0 807.2L874.7 803.7M874.7 803.7L883.6 800.0M883.6 800.0L892.5 796.2M892.5 796.2L901.2 792.5M901.2 792.5L909.4 788.9M909.4 788.9L917.0 785.5M917.0 785.5L922.1 783.2M922.1 783.2L926.9 781.0M1039.1 712.1L1046.2 707.9M1046.2 707.9L1053.3 703.7M1053.3 703.7L1060.4 699.5M1422.1 161.8L1424.5 160.4" stroke="#00ff00" stroke-width="10.0" stroke-linecap="round"/><path d="M926.9 781.0L931.4 779.0M931.4 779.0L935.8 776.8M935.8 776.8L940.3 774.6M940.3 774.6L945.0 772.0M945.0 772.0L951.0 768.6M951.0 768.6L957.1 764.8M957.1 764.8L963.3 760.8M963.3 760.8L969.7 756.7M969.7 756.7L976.1 752.5M1010.7 729.9L1017.9 725.2M1017.9 725.2L1025.0 720.7M1025.0 720.7L1032.1 716.4M1032.1 716.4L1039.1 712.1M1424.5 160.4L1427.1 159.1" stroke="#00ff00" stroke-width="10.5" stroke-linecap="round"/><path d="M976.1 752.5L982.5 748.3M982.5 748.3L989.4 743.8M989.4 743.8L996.5 739.2M996.5 739.2L1003.6 734.5M1003.6 734.5L1010.7 729.9M1427.1 159.1L1429.8 158.0" stroke="#00ff00" stroke-width="11.0" stroke-linecap="round"/><path d="M1060.4 699.5L1067.6 695.2M1067.6 695.2L1075.1 690.7M1075.1 690.7L1082.9 686.1M1082.9 686.1L1090.6 681.6M1420.0 163.5L1422.1 161.8" stroke="#00ff00" stroke-width="9.5" stroke-linecap="round"/><path d="M1090.6 681.6L1098.2 676.9M1098.2 676.9L1105.6 672.2M1105.6 672.2L1112.7 667.4M1112.7 667.4L1118.9 662.9M1118.9 662.9L1124.9 658.1M1418.4 165.4L1420.0 163.5" stroke="#00ff00" stroke-width="9.0" stroke-linecap="round"/><path d="M1124.9 658.1L1130.8 653.3M1130.8 653.3L1136.3 648.6M1136.3 648.6L1141.6 644.1M1141.6 644.1L1146.4 640.0M1146.4 640.0L1149.5 637.3M1149.5 637.3L1152.3 634.9M1152.3 634.9L1155.0 632.5M1155.0 632.5L1157.5 630.2M1157.5 630.2L1160.1 627.9M1160.1 627.9L1162.7 625.4M1162.7 625.4L1165.5 622.8M1165.5 622.8L1168.2 620.1M1168.2 620.1L1171.0 617.4M1171.0 617.4L1173.7 614.7M1416.1 169.7L1417.2 167.4M1417.2 167.4L1418.4 165.4" stroke="#00ff00" stroke-width="8.5" stroke-linecap="round"/><path d="M1173.7 614.7L1176.4 611.9M1176.4 611.9L1179.1 609.0M1179.1 609.0L1181.9 605.8M1181.9 605.8L1184.7 602.5M1184.7 602.5L1187.4 599.2M1187.4 599.2L1190.1 595.8M1190.1 595.8L1192.8 592.5M1192.8 592.5L1195.4 589.4M1195.4 589.4L1197.6 586.9M1197.6 586.9L1199.9 584.7M1199.9 584.7L1202.0 582.5M1202.0 582.5L1204.2 580.2M1204.2 580.2L1206.3 577.7M1206.3 577.7L1208.5 574.7M1208.5 574.7L1211.8 569.3M1211.8 569.3L1215.1 563.1M1215.1 563.1L1218.4 556.3M1218.4 556.3L1221.7 549.2M1221.7 549.2L1225.0 542.1M1225.0 542.1L1228.1 535.4M1228.1 535.4L1231.0 529.3M1231.0 529.3L1233.8 523.2M1233.8 523.2L1236.6 517.1M1236.6 517.1L1239.3 511.1M1239.3 511.1L1241.9 505.2M1241.9 505.2L1244.5 499.4M1244.5 499.4L1246.8 494.4M1246.8 494.4L1249.0 489.6M1249.0 489.6L1251.2 484.8M1251.2 484.8L1253.3 480.1M1253.3 480.1L1255.5 475.2M1255.5 475.2L1257.6 470.0M1257.6 470.0L1260.0 463.7M1260.0 463.7L1262.4 457.1M1262.4 457.1L1264.8 450.3M1264.8 450.3L1267.2 443.5M1267.2 443.5L1269.6 436.7M1269.6 436.7L1272.0 430.0M1272.0 430.0L1274.5 423.7M1274.5 423.7L1277.0 417.4M1277.0 417.4L1279.6 411.2M1279.6 411.2L1282.2 405.0M1282.2 405.0L1284.7 398.6M1284.7 398.6L1287.0 392.0M1287.0 392.0L1289.4 384.4M1289.4 384.4L1291.6 376.4M1291.6 376.4L1293.8 368.2M1293.8 368.2L1295.8 360.1M1295.8 360.1L1297.9 352.3M1297.9 352.3L1300.0 345.0M1300.0 345.0L1301.6 339.5M1301.6 339.5L1303.1 334.0M1303.1 334.0L1304.6 328.8M1304.6 328.8L1306.2 323.8M1306.2 323.8L1308.0 319.2M1308.0 319.2L1310.0 315.0M1310.0 315.0L1311.8 312.1M1311.8 312.1L1313.7 309.6M1313.7 309.6L1315.8 307.3M1315.8 307.3L1317.9 305.1M1317.9 305.1L1319.9 302.7M1319.9 302.7L1322.0 300.0M1322.0 300.0L1324.5 296.2M1324.5 296.2L1326.9 291.9M1326.9 291.9L1329.3 287.4M1329.3 287.4L1331.8 283.0M1331.8 283.0L1334.4 278.8M1334.4 278.8L1337.0 275.0M1337.0 275.0L1339.3 272.2M1339.3 272.2L1341.7 269.7M1341.7 269.7L1344.1 267.3M1344.1 267.3L1346.6 265.1M1346.6 265.1L1349.1 262.8M1349.1 262.8L1351.5 260.4M1351.5 260.4L1353.9 258.0M1353.9 258.0L1356.4 255.5M1356.4 255.5L1358.8 253.1M1358.8 253.1L1361.2 250.7M1361.2 250.7L1363.6 248.2M1363.6 248.2L1366.0 245.7M1366.0 245.7L1368.4 243.1M1368.4 243.1L1370.7 240.5M1370.7 240.5L1373.1 237.8M1373.1 237.8L1375.4 235.2M1375.4 235.2L1377.7 232.5M1377.7 232.5L1380.0 229.8M1380.0 229.8L1382.2 227.2M1382.2 227.2L1384.5 224.5M1384.5 224.5L1386.7 221.9M1386.7 221.9L1388.8 219.2M1388.8 219.2L1391.0 216.5M1391.0 216.5L1393.0 213.8M1393.0 213.8L1395.0 211.0M1395.0 211.0L1396.9 208.2M1396.9 208.2L1398.8 205.4M1398.8 205.4L1400.6 202.5M1400.6 202.5L1402.3 199.6M1402.3 199.6L1404.0 196.6M1404.0 196.6L1405.6 193.4M1405.6 193.4L1407.2 190.1M1407.2 190.1L1408.7 186.7M1408.7 186.7L1410.1 183.3M1410.1 183.3L1411.6 180.1M1411.6 180.1L1413.0 177.0M1413.0 177.0L1414.1 174.5M1414.1 174.5L1415.1 172.1M1415.1 172.1L1416.1 169.7" stroke="#00ff00" stroke-width="8.0" stroke-linecap="round"/><path d="M1429.8 158.0L1432.5 157.0" stroke="#00ff00" stroke-width="12.0" stroke-linecap="round"/><path d="M1432.5 157.0L1435.0 156.0" stroke="#00ff00" stroke-width="12.5" stroke-linecap="round"/><path d="M1435.0 156.0L1437.0 155.2" stroke="#00ff00" stroke-width="13.0" stroke-linecap="round"/><path d="M1437.0 155.2L1439.0 154.6" stroke="#00ff00" stroke-width="13.5" stroke-linecap="round"/><path d="M1439.0 154.6L1441.0 154.1M1441.0 154.1L1442.9 153.5M1442.9 153.5L1444.9 152.9M1444.9 152.9L1447.0 152.0M1447.0 152.0L1449.8 150.5M1449.8 150.5L1452.8 148.8M1452.8 148.8L1455.8 146.8" stroke="#00ff00" stroke-width="14.0" stroke-linecap="round"/><path d="M1455.8 146.8L1458.9 144.8M1458.9 144.8L1461.9 142.8M1461.9 142.8L1465.0 141.0M1465.0 141.0L1467.9 139.4M1467.9 139.4L1470.9 137.8M1470.9 137.8L1473.8 136.3M1473.8 136.3L1476.8 134.8M1476.8 134.8L1479.8 133.4M1479.8 133.4L1483.0 132.0M1483.0 132.0L1487.2 130.4" stroke="#00ff00" stroke-width="14.5" stroke-linecap="round"/><path d="M1487.2 130.4L1492.1 128.6M1492.1 128.6L1497.2 126.9M1497.2 126.9L1501.6 125.4M1501.6 125.4L1504.8 124.4M1504.8 124.4L1506.0 124.0" stroke="#00ff00" stroke-width="15.0" stroke-linecap="round"/>
<path d="M1476.4 113.4H1504.5M1461.5 116.3H1491.5M1446.8 122.5H1476.8M1432.5 127.2H1462.5M1418.3 130.8H1448.3M1404.5 135.0H1434.5M1390.9 138.1H1420.9M1377.6 144.2H1407.6M1364.5 151.1H1394.5M1351.7 161.2H1381.7M1339.0 176.6H1369.0M1326.6 191.1H1356.6M1314.5 200.0H1344.5M1302.5 210.0H1332.5M1290.8 221.0H1320.8M1279.2 227.6H1309.2M1267.9 238.9H1297.9M1256.7 255.4H1286.7M1245.7 270.8H1275.7M1235.0 286.1H1265.0M1224.3 302.3H1254.3M1213.9 319.8H1243.9M1203.6 335.8H1233.6M1193.5 349.1H1223.5M1183.6 361.5H1213.6M1173.8 373.1H1203.8M1164.2 381.9H1194.2M1154.7 389.8H1184.7M1145.4 398.7H1175.4M1136.2 407.1H1166.2M1127.2 413.8H1157.2M1118.2 419.7H1148.2M1109.5 425.4H1139.5M1100.8 431.0H1130.8M1092.3 436.2H1122.3M1083.9 441.0H1113.9M1075.7 445.5H1105.7M1067.5 450.0H1097.5M1059.5 454.5H1089.5M1051.6 459.0H1081.6M1043.8 463.8H1073.8M1036.1 468.4H1066.1M1028.5 472.6H1058.5M1021.0 476.4H1051.0M1013.6 480.2H1043.6M1006.3 483.7H1036.3M999.2 487.2H1029.2M992.1 491.3H1022.1M985.1 495.8H1015.1M978.2 500.6H1008.2M971.4 505.4H1001.4M964.7 510.2H994.7M958.1 514.7H988.1M951.5 518.7H981.5M945.1 522.7H975.1M938.7 527.2H968.7M932.4 532.0H962.4M926.2 536.2H956.2M920.1 539.8H950.1M914.0 542.8H944.0M908.0 545.6H938.0M902.1 548.4H932.1M896.3 551.0H926.3M890.5 553.6H920.5M884.8 556.1H914.8M879.2 558.5H909.2M873.7 560.9H903.7M868.2 563.2H898.2M862.7 565.4H892.7M857.4 567.6H887.4M852.1 569.6H882.1M846.8 571.6H876.8M841.7 573.5H871.7M836.5 575.3H866.5M831.5 577.1H861.5M826.5 578.9H856.5M821.5 580.7H851.5M816.6 582.4H846.6M811.8 584.2H841.8M807.0 585.9H837.0M802.3 587.6H832.3M797.6 589.3H827.6M793.0 590.9H823.0M788.4 592.5H818.4M783.9 594.0H813.9M779.4 595.4H809.4M775.0 596.7H805.0M770.6 598.0H800.6M766.3 599.2H796.3M762.0 600.2H792.0M757.7 601.2H787.7M753.5 602.1H783.5M749.4 603.0H779.4M745.3 603.9H775.3M741.2 605.0H771.2M737.2 606.1H767.2M733.2 607.1H763.2M729.2 608.2H759.2M725.3 609.3H755.3M721.5 610.4H751.5M717.6 611.5H747.6M713.8 612.6H743.8M710.1 613.7H740.1M706.3 614.7H736.3M702.7 615.8H732.7M699.0 616.8H729.0M695.4 617.8H725.4M691.8 618.8H721.8M688.3 619.8H718.3M684.8 620.8H714.8M681.3 621.7H711.3M677.9 622.7H707.9M674.4 623.7H704.4M671.1 624.7H701.1M667.7 625.7H697.7M664.4 626.7H694.4M661.1 627.7H691.1M657.9 628.7H687.9M654.6 629.6H684.6M651.4 630.6H681.4M648.3 631.6H678.3M645.1 632.6H675.1M642.0 633.6H672.0M638.9 634.6H668.9M635.9 635.6H665.9M632.8 636.7H662.8M629.8 637.7H659.8M626.9 638.7H656.9M623.9 639.8H653.9M621.0 640.9H651.0M618.1 642.0H648.1M615.2 643.1H645.2M612.4 644.2H642.4M609.5 645.3H639.5M606.7 646.5H636.7M604.0 647.6H634.0M601.2 648.7H631.2M598.5 649.8H628.5M595.8 650.9H625.8M593.1 651.9H623.1M590.4 653.0H620.4M587.8 654.0H617.8M585.2 655.1H615.2M582.6 656.1H612.6M580.0 657.1H610.0M577.4 658.1H607.4M574.9 659.1H604.9M572.4 660.0H602.4M569.9 661.0H599.9M567.4 661.9H597.4M564.9 662.8H594.9M562.5 663.7H592.5M560.1 664.6H590.1M557.7 665.5H587.7M555.3 666.4H585.3M553.0 667.3H583.0M550.6 668.2H580.6M548.3 669.1H578.3M546.0 669.9H576.0M543.7 670.8H573.7M541.4 671.7H571.4M539.2 672.5H569.2M536.9 673.4H566.9M534.7 674.2H564.7M532.5 675.1H562.5M530.3 675.9H560.3M528.2 676.8H558.2M526.0 677.6H556.0M523.9 678.5H553.9M521.8 679.3H551.8M519.7 680.1H549.7M517.6 681.0H547.6M515.5 681.8H545.5M513.4 682.7H543.4M511.4 683.5H541.4M509.4 684.4H539.4M507.3 685.2H537.3M505.3 686.0H535.3M503.4 686.9H533.4M501.4 687.7H531.4M499.4 688.5H529.4M497.5 689.4H527.5M495.5 690.2H525.5M493.6 691.0H523.6M491.7 691.9H521.7M489.8 692.7H519.8M488.0 693.5H518.0M486.1 694.3H516.1M484.2 695.1H514.2M482.4 695.9H512.4M480.6 696.7H510.6M478.8 697.5H508.8M477.0 698.3H507.0M475.2 699.1H505.2M473.4 699.9H503.4M471.6 700.7H501.6M469.9 701.5H499.9M468.1 702.2H498.1M466.4 703.0H496.4M464.7 703.8H494.7M463.0 704.5H493.0M461.3 705.3H491.3M459.6 706.0H489.6M457.9 706.7H487.9M456.3 707.5H486.3M454.6 708.2H484.6M453.0 708.9H483.0M451.4 709.6H481.4M449.7 710.3H479.7M448.1 711.0H478.1M446.5 711.7H476.5M444.9 712.4H474.9M443.4 713.0H473.4M441.8 713.7H471.8M440.2 714.4H470.2M438.7 715.0H468.7M437.2 715.7H467.2M435.6 716.3H465.6M434.1 717.0H464.1M432.6 717.6H462.6M431.1 718.2H461.1M429.6 718.9H459.6M428.1 719.5H458.1M426.7 720.1H456.7M425.2 720.7H455.2M423.7 721.4H453.7M422.3 722.0H452.3M420.9 722.6H450.9M419.4 723.2H449.4M418.0 723.8H448.0M416.6 724.4H446.6M415.2 725.0H445.2M413.8 725.6H443.8M412.4 726.2H442.4M411.1 726.7H441.1M409.7 727.3H439.7M408.3 727.9H438.3M407.0 728.5H437.0M405.6 729.1H435.6M404.3 729.7H434.3M403.0 730.2H433.0M401.6 730.8H431.6M400.3 731.4H430.3M399.0 732.0H429.0M397.7 732.5H427.7M396.4 733.1H426.4M395.1 733.7H425.1M393.9 734.3H423.9M392.6 734.8H422.6M391.3 735.4H421.3M390.1 736.0H420.1M388.8 736.6H418.8M387.6 737.1H417.6M386.4 737.7H416.4M385.1 738.2H415.1M383.9 738.8H413.9M382.7 739.4H412.7M381.5 740.0H411.5M380.3 740.5H410.3M379.1 741.1H409.1M377.9 741.7H407.9M376.8 742.2H406.8M375.6 742.8H405.6M374.4 743.4H404.4M373.3 743.9H403.3M372.1 744.5H402.1M371.0 745.1H401.0M369.8 745.7H399.8M368.7 746.2H398.7M367.6 746.8H397.6M366.4 747.3H396.4M365.3 747.9H395.3M364.2 748.4H394.2M363.1 749.0H393.1M362.0 749.6H392.0M360.9 750.1H390.9M359.8 750.7H389.8M358.7 751.2H388.7M357.7 751.8H387.7M356.6 752.3H386.6M355.5 752.9H385.5M354.5 753.4H384.5M353.4 753.9H383.4M352.4 754.5H382.4M351.3 755.0H381.3M350.3 755.5H380.3M349.3 756.1H379.3M348.2 756.6H378.2M347.2 757.1H377.2M346.2 757.6H376.2M345.2 758.2H375.2M344.2 758.7H374.2M343.2 759.2H373.2M342.2 759.7H372.2M341.2 760.2H371.2M340.2 760.7H370.2M339.2 761.2H369.2M338.3 761.7H368.3M337.3 762.2H367.3M336.3 762.7H366.3M335.4 763.2H365.4M334.4 763.6H364.4M333.5 764.1H363.5M332.5 764.6H362.5M331.6 765.1H361.6M330.6 765.6H360.6M329.7 766.0H359.7M328.8 766.5H358.8M327.9 766.9H357.9M326.9 767.4H356.9M326.0 767.8H356.0M325.1 768.3H355.1M324.2 768.7H354.2M323.3 769.2H353.3M322.4 769.6H352.4M321.5 770.1H351.5M320.6 770.5H350.6M319.7 770.9H349.7M318.9 771.3H348.9M318.0 771.8H348.0M317.1 772.2H347.1M316.2 772.6H346.2M315.4 773.0H345.4M314.5 773.4H344.5M313.7 773.8H343.7M312.8 774.2H342.8M312.0 774.6H342.0M311.1 775.0H341.1M310.3 775.4H340.3M309.5 775.8H339.5M308.6 776.2H338.6M307.8 776.6H337.8M307.0 777.0H337.0M306.2 777.4H336.2M305.3 777.8H335.3M304.5 778.1H334.5M303.7 778.5H333.7M302.9 778.9H332.9M302.1 779.3H332.1M301.3 779.6H331.3M300.5 780.0H330.5M299.7 780.4H329.7M298.9 780.8H328.9M298.2 781.1H328.2M297.4 781.5H327.4M296.6 781.9H326.6M295.8 782.2H325.8M295.1 782.6H325.1M294.3 782.9H324.3M293.5 783.3H323.5M292.8 783.6H322.8M292.0 784.0H322.0M291.3 784.3H321.3M290.5 784.7H320.5M289.8 785.0H319.8M289.0 785.4H319.0M288.3 785.7H318.3M287.6 786.1H317.6M286.8 786.4H316.8M286.1 786.7H316.1M285.4 787.1H315.4M284.6 787.4H314.6M283.9 787.7H313.9M283.2 788.1H313.2M282.5 788.4H312.5M281.8 788.7H311.8M281.1 789.1H311.1M280.4 789.4H310.4M279.7 789.7H309.7M279.0 790.0H309.0M278.3 790.4H308.3M277.6 790.7H307.6M276.9 791.0H306.9M276.5 791.3H306.2M276.5 791.6H305.5M276.5 791.9H304.8M276.5 792.3H304.2M276.5 792.6H303.5M276.5 792.9H302.8M276.5 793.2H302.1M276.5 793.5H301.5M276.5 793.8H300.8M276.5 794.1H300.1M276.5 794.4H299.5M276.5 794.7H298.8M276.5 795.0H298.2M276.5 795.3H297.5M276.5 795.6H296.9M276.5 795.9H296.2M276.5 796.2H295.6M276.5 796.5H294.9M276.5 796.8H294.3M276.5 797.1H293.7M276.5 797.4H293.0M276.5 797.7H292.4M276.5 798.0H291.8M276.5 798.2H291.2M276.5 798.5H290.5M276.5 798.8H289.9" stroke="#8000ff" stroke-width="3"/>
<path d="M274.5 799.0L277.6 797.6M277.6 797.6L285.6 793.9M285.6 793.9L297.1 788.6M297.1 788.6L310.2 782.5M310.2 782.5L323.4 776.3M323.4 776.3L335.0 770.8M335.0 770.8L345.7 765.5M345.7 765.5L356.5 760.0M356.5 760.0L367.3 754.5M367.3 754.5L378.2 748.9M378.2 748.9L389.1 743.5M389.1 743.5L400.0 738.3M400.0 738.3L410.8 733.4M410.8 733.4L421.6 728.6M421.6 728.6L432.4 724.0M432.4 724.0L443.3 719.4M443.3 719.4L454.2 714.8M454.2 714.8L465.0 710.2M465.0 710.2L475.8 705.5M475.8 705.5L486.6 700.7M486.6 700.7L497.5 695.9M497.5 695.9L508.3 691.2M508.3 691.2L519.1 686.5M519.1 686.5L530.0 682.0M530.0 682.0L540.9 677.6M540.9 677.6L552.0 673.4M552.0 673.4L563.1 669.2M563.1 669.2L574.1 665.0M574.1 665.0L584.7 661.0M584.7 661.0L595.0 657.1M595.0 657.1L603.5 653.8M603.5 653.8L611.7 650.5M611.7 650.5L619.7 647.3M619.7 647.3L627.5 644.1M627.5 644.1L635.2 641.2M635.2 641.2L642.8 638.4M642.8 638.4L649.2 636.2M649.2 636.2L655.5 634.1M655.5 634.1L661.6 632.1M661.6 632.1L667.6 630.3M667.6 630.3L673.8 628.4M673.8 628.4L680.0 626.5M680.0 626.5L686.6 624.5M686.6 624.5L693.2 622.6M693.2 622.6L699.9 620.7M699.9 620.7L706.6 618.8M706.6 618.8L713.3 617.0M713.3 617.0L720.0 615.1M720.0 615.1L726.8 613.2M726.8 613.2L733.8 611.2M733.8 611.2L740.8 609.2M740.8 609.2L747.7 607.3M747.7 607.3L754.1 605.5M754.1 605.5L760.0 604.0M760.0 604.0L763.7 603.1M763.7 603.1L767.2 602.3M767.2 602.3L770.4 601.7M770.4 601.7L773.6 601.0M773.6 601.0L776.8 600.3M776.8 600.3L780.0 599.5M780.0 599.5L783.3 598.6M783.3 598.6L786.4 597.8M786.4 597.8L789.6 596.8M789.6 596.8L792.8 595.9M792.8 595.9L796.3 594.8M796.3 594.8L800.0 593.6M800.0 593.6L806.0 591.6M806.0 591.6L812.5 589.3M812.5 589.3L819.5 586.8M819.5 586.8L826.6 584.3M826.6 584.3L833.5 581.7M833.5 581.7L840.0 579.4M840.0 579.4L845.3 577.5M845.3 577.5L850.3 575.7M850.3 575.7L855.3 574.0M855.3 574.0L860.2 572.2M860.2 572.2L865.1 570.4M865.1 570.4L870.0 568.5M870.0 568.5L875.1 566.5M875.1 566.5L880.3 564.4M880.3 564.4L885.4 562.2M885.4 562.2L890.5 560.1M890.5 560.1L895.4 558.0M895.4 558.0L900.0 556.0M900.0 556.0L903.6 554.4M903.6 554.4L907.0 552.9M907.0 552.9L910.3 551.5M910.3 551.5L913.5 550.0M913.5 550.0L916.7 548.5M916.7 548.5L920.0 547.0M920.0 547.0L923.4 545.4M923.4 545.4L926.7 543.9M926.7 543.9L930.1 542.3M930.1 542.3L933.4 540.6M933.4 540.6L936.7 538.9M936.7 538.9L940.0 537.0M940.0 537.0L943.4 534.8M943.4 534.8L946.8 532.4M946.8 532.4L950.2 529.9M950.2 529.9L953.6 527.3M953.6 527.3L956.8 524.9M956.8 524.9L960.0 522.7M960.0 522.7L962.6 521.0M962.6 521.0L965.1 519.5M965.1 519.5L967.6 518.0M967.6 518.0L970.1 516.6M970.1 516.6L972.5 515.1M972.5 515.1L975.0 513.5M975.0 513.5L977.5 511.8M977.5 511.8L979.9 510.1M979.9 510.1L982.4 508.3M982.4 508.3L984.8 506.5M984.8 506.5L987.4 504.6M987.4 504.6L990.0 502.8M990.0 502.8L993.1 500.6M993.1 500.6L996.4 498.3M996.4 498.3L999.8 496.0M999.8 496.0L1003.2 493.8M1003.2 493.8L1006.6 491.6M1006.6 491.6L1010.0 489.5M1010.0 489.5L1013.3 487.7M1013.3 487.7L1016.6 486.0M1016.6 486.0L1020.0 484.4M1020.0 484.4L1023.3 482.8M1023.3 482.8L1026.7 481.2M1026.7 481.2L1030.0 479.5M1030.0 479.5L1033.3 477.8M1033.3 477.8L1036.7 476.1M1036.7 476.1L1040.0 474.4M1040.0 474.4L1043.4 472.6M1043.4 472.6L1046.7 470.8M1046.7 470.8L1050.0 469.0M1050.0 469.0L1053.3 467.1M1053.3 467.1L1056.7 465.1M1056.7 465.1L1060.0 463.0M1060.0 463.0L1063.3 461.0M1063.3 461.0L1066.7 459.0M1066.7 459.0L1070.0 457.0M1070.0 457.0L1073.3 455.1M1073.3 455.1L1076.7 453.2M1076.7 453.2L1080.0 451.4M1080.0 451.4L1083.3 449.6M1083.3 449.6L1086.7 447.8M1086.7 447.8L1090.0 445.9M1090.0 445.9L1093.3 444.0M1093.3 444.0L1096.7 442.2M1096.7 442.2L1100.0 440.3M1100.0 440.3L1103.4 438.5" stroke="#8000ff" stroke-width="15.0" stroke-linecap="round"/><path d="M1103.4 438.5L1106.7 436.6M1377.0 152.2L1379.2 151.2" stroke="#8000ff" stroke-width="14.5" stroke-linecap="round"/><path d="M1106.7 436.6L1110.0 434.6M1374.9 153.4L1377.0 152.2" stroke="#8000ff" stroke-width="14.0" stroke-linecap="round"/><path d="M1110.0 434.6L1113.4 432.6M1113.4 432.6L1116.7 430.5" stroke="#8000ff" stroke-width="13.5" stroke-linecap="round"/><path d="M1116.7 430.5L1120.0 428.3M1373.0 154.7L1374.9 153.4" stroke="#8000ff" stroke-width="13.0" stroke-linecap="round"/><path d="M1120.0 428.3L1123.4 426.2M1123.4 426.2L1126.7 424.0M1371.3 156.1L1373.0 154.7" stroke="#8000ff" stroke-width="12.5" stroke-linecap="round"/><path d="M1126.7 424.0L1130.0 421.8M1369.7 157.6L1371.3 156.1" stroke="#8000ff" stroke-width="12.0" stroke-linecap="round"/><path d="M1130.0 421.8L1133.4 419.6M1368.3 159.2L1369.7 157.6" stroke="#8000ff" stroke-width="11.5" stroke-linecap="round"/><path d="M1133.4 419.6L1136.7 417.4M1136.7 417.4L1140.1 415.2M1366.9 160.9L1368.3 159.2" stroke="#8000ff" stroke-width="11.0" stroke-linecap="round"/><path d="M1140.1 415.2L1143.4 413.0M1365.4 162.6L1366.9 160.9" stroke="#8000ff" stroke-width="10.5" stroke-linecap="round"/><path d="M1143.4 413.0L1146.7 410.6M1146.7 410.6L1150.0 408.1M1364.0 164.3L1365.4 162.6" stroke="#8000ff" stroke-width="10.0" stroke-linecap="round"/><path d="M1150.0 408.1L1153.4 405.2" stroke="#8000ff" stroke-width="9.5" stroke-linecap="round"/><path d="M1153.4 405.2L1156.8 402.1M1362.5 166.1L1364.0 164.3" stroke="#8000ff" stroke-width="9.0" stroke-linecap="round"/><path d="M1156.8 402.1L1160.2 398.9M1160.2 398.9L1163.5 395.7M1361.0 167.9L1362.5 166.1" stroke="#8000ff" stroke-width="8.5" stroke-linecap="round"/><path d="M1163.5 395.7L1166.8 392.5M1166.8 392.5L1170.0 389.5M1170.0 389.5L1172.9 387.0M1172.9 387.0L1175.8 384.6M1175.8 384.6L1178.7 382.3M1178.7 382.3L1181.5 380.0M1181.5 380.0L1184.3 377.6M1184.3 377.6L1187.0 375.0M1187.0 375.0L1189.8 372.1M1189.8 372.1L1192.4 369.1M1192.4 369.1L1195.1 365.9M1195.1 365.9L1197.7 362.7M1197.7 362.7L1200.3 359.4M1200.3 359.4L1203.0 356.0M1203.0 356.0L1206.1 352.1M1206.1 352.1L1209.4 348.0M1209.4 348.0L1212.7 343.8M1212.7 343.8L1215.9 339.5M1215.9 339.5L1219.0 335.3M1219.0 335.3L1222.0 331.0M1222.0 331.0L1224.7 326.8M1224.7 326.8L1227.3 322.6M1227.3 322.6L1229.7 318.4M1229.7 318.4L1232.2 314.1M1232.2 314.1L1234.6 310.0M1234.6 310.0L1237.0 306.0M1237.0 306.0L1239.2 302.5M1239.2 302.5L1241.4 299.1M1241.4 299.1L1243.5 295.7M1243.5 295.7L1245.7 292.4M1245.7 292.4L1247.8 289.2M1247.8 289.2L1250.0 286.0M1250.0 286.0L1252.0 283.0M1252.0 283.0L1254.1 280.1M1254.1 280.1L1256.2 277.2M1256.2 277.2L1258.2 274.3M1258.2 274.3L1260.1 271.6M1260.1 271.6L1262.0 269.0M1262.0 269.0L1263.4 267.0M1263.4 267.0L1264.8 265.2M1264.8 265.2L1266.1 263.4M1266.1 263.4L1267.4 261.7M1267.4 261.7L1268.7 259.9M1268.7 259.9L1270.0 258.0M1270.0 258.0L1271.5 255.8M1271.5 255.8L1272.9 253.4M1272.9 253.4L1274.4 251.0M1274.4 251.0L1275.9 248.6M1275.9 248.6L1277.4 246.3M1277.4 246.3L1279.0 244.0M1279.0 244.0L1280.6 241.9M1280.6 241.9L1282.2 239.8M1282.2 239.8L1283.8 237.7M1283.8 237.7L1285.5 235.7M1285.5 235.7L1287.2 233.8M1287.2 233.8L1289.0 232.0M1289.0 232.0L1290.7 230.4M1290.7 230.4L1292.6 228.9M1292.6 228.9L1294.4 227.4M1294.4 227.4L1296.3 226.0M1296.3 226.0L1298.2 224.8M1298.2 224.8L1300.0 223.6M1300.0 223.6L1301.6 222.7M1301.6 222.7L1303.2 222.0M1303.2 222.0L1304.8 221.4M1304.8 221.4L1306.3 220.8M1306.3 220.8L1307.9 220.0M1307.9 220.0L1309.4 219.0M1309.4 219.0L1311.2 217.5M1311.2 217.5L1312.8 215.6M1312.8 215.6L1314.5 213.7M1314.5 213.7L1316.1 211.6M1316.1 211.6L1317.9 209.6M1317.9 209.6L1319.7 207.7M1319.7 207.7L1321.8 205.9M1321.8 205.9L1324.0 204.1M1324.0 204.1L1326.2 202.4M1326.2 202.4L1328.5 200.7M1328.5 200.7L1330.8 199.1M1330.8 199.1L1333.0 197.4M1333.0 197.4L1335.1 195.8M1335.1 195.8L1337.3 194.3M1337.3 194.3L1339.5 192.8M1339.5 192.8L1341.6 191.2M1341.6 191.2L1343.6 189.6M1343.6 189.6L1345.5 187.8M1345.5 187.8L1347.3 185.9M1347.3 185.9L1348.9 183.8M1348.9 183.8L1350.4 181.7M1350.4 181.7L1351.9 179.5M1351.9 179.5L1353.5 177.4M1353.5 177.4L1355.0 175.3M1355.0 175.3L1356.5 173.4M1356.5 173.4L1358.0 171.5M1358.0 171.5L1359.5 169.7M1359.5 169.7L1361.0 167.9" stroke="#8000ff" stroke-width="8.0" stroke-linecap="round"/><path d="M1379.2 151.2L1381.4 150.2" stroke="#8000ff" stroke-width="15.5" stroke-linecap="round"/><path d="M1381.4 150.2L1383.7 149.1" stroke="#8000ff" stroke-width="16.5" stroke-linecap="round"/><path d="M1383.7 149.1L1386.0 148.0" stroke="#8000ff" stroke-width="17.0" stroke-linecap="round"/><path d="M1386.0 148.0L1388.6 146.6" stroke="#8000ff" stroke-width="18.0" stroke-linecap="round"/><path d="M1388.6 146.6L1391.1 145.0" stroke="#8000ff" stroke-width="19.0" stroke-linecap="round"/><path d="M1391.1 145.0L1393.8 143.5" stroke="#8000ff" stroke-width="20.0" stroke-linecap="round"/><path d="M1393.8 143.5L1396.5 141.9M1396.5 141.9L1399.2 140.5M1399.2 140.5L1402.0 139.3M1402.0 139.3L1404.9 138.3M1404.9 138.3L1407.9 137.5M1407.9 137.5L1410.9 136.9M1410.9 136.9L1413.9 136.3M1413.9 136.3L1417.0 135.6M1417.0 135.6L1420.0 134.9M1420.0 134.9L1423.0 134.0" stroke="#8000ff" stroke-width="21.0" stroke-linecap="round"/><path d="M1423.0 134.0L1426.0 133.1M1426.0 133.1L1429.0 132.1M1429.0 132.1L1432.0 131.2M1432.0 131.2L1435.0 130.3M1435.0 130.3L1438.0 129.4M1438.0 129.4L1441.0 128.6M1441.0 128.6L1444.0 128.0M1444.0 128.0L1447.0 127.3M1447.0 127.3L1450.0 126.7M1450.0 126.7L1453.0 125.9M1453.0 125.9L1456.0 125.0M1456.0 125.0L1459.0 123.8M1459.0 123.8L1462.0 122.4M1462.0 122.4L1465.0 121.0M1465.0 121.0L1468.0 119.5M1468.0 119.5L1471.0 118.1M1471.0 118.1L1474.0 117.0M1474.0 117.0L1477.0 116.2" stroke="#8000ff" stroke-width="21.5" stroke-linecap="round"/><path d="M1477.0 116.2L1480.0 115.5M1480.0 115.5L1483.1 114.9M1483.1 114.9L1486.1 114.4M1486.1 114.4L1489.1 113.9M1489.1 113.9L1492.0 113.3M1492.0 113.3L1494.8 112.7M1494.8 112.7L1497.8 112.0M1497.8 112.0L1500.9 111.2M1500.9 111.2L1503.5 110.6M1503.5 110.6L1505.3 110.2M1505.3 110.2L1506.0 110.0" stroke="#8000ff" stroke-width="22.0" stroke-linecap="round"/>
<line x1="740.8" y1="1021.0" x2="1238.3" y2="300.0" stroke="#8000ff" stroke-width="7.5"/>
<line x1="1045.8" y1="1018.3" x2="1316.9" y2="305.0" stroke="#00ff00" stroke-width="6.5"/>
<line x1="1085.8" y1="1014.8" x2="1309.9" y2="340.0" stroke="#ff00ff" stroke-width="6.5"/>
<line x1="1102.5" y1="1013.9" x2="1327.3" y2="350.0" stroke="#008000" stroke-width="6.5"/>
<line x1="1119.6" y1="1017.7" x2="1333.6" y2="355.0" stroke="#ff0000" stroke-width="6.5"/>
<line x1="1225.8" y1="1019.4" x2="1291.3" y2="880.0" stroke="#000000" stroke-width="6.5"/></g>
<g fill="none" stroke="#000" stroke-width="5.5">
<path d="M274.4 51H1506.3V1045.2H274.4Z" stroke-linejoin="miter"/>
<path d="M256 1045.0H274.3M263 1028.4H274.3M263 1011.9H274.3M263 995.3H274.3M263 978.7H274.3M263 962.2H274.3M263 945.6H274.3M263 929.0H274.3M263 912.5H274.3M263 895.9H274.3M256 879.3H274.3M263 862.8H274.3M263 846.2H274.3M263 829.6H274.3M263 813.1H274.3M263 796.5H274.3M263 779.9H274.3M263 763.4H274.3M263 746.8H274.3M263 730.2H274.3M256 713.7H274.3M263 697.1H274.3M263 680.5H274.3M263 664.0H274.3M263 647.4H274.3M263 630.8H274.3M263 614.3H274.3M263 597.7H274.3M263 581.1H274.3M263 564.6H274.3M256 548.0H274.3M263 531.4H274.3M263 514.9H274.3M263 498.3H274.3M263 481.7H274.3M263 465.2H274.3M263 448.6H274.3M263 432.0H274.3M263 415.5H274.3M263 398.9H274.3M256 382.3H274.3M263 365.8H274.3M263 349.2H274.3M263 332.6H274.3M263 316.1H274.3M263 299.5H274.3M263 282.9H274.3M263 266.4H274.3M263 249.8H274.3M263 233.2H274.3M256 216.7H274.3M263 200.1H274.3M263 183.5H274.3M263 167.0H274.3M263 150.4H274.3M263 133.8H274.3M263 117.3H274.3M263 100.7H274.3M263 84.1H274.3M263 67.6H274.3M256 51.0H274.3M274.3 1045V1066M305.1 1045V1059M335.9 1045V1059M366.7 1045V1059M397.5 1045V1059M428.4 1045V1059M459.2 1045V1059M490.0 1045V1059M520.8 1045V1059M551.6 1045V1059M582.4 1045V1066M613.2 1045V1059M644.0 1045V1059M674.8 1045V1059M705.6 1045V1059M736.5 1045V1059M767.3 1045V1059M798.1 1045V1059M828.9 1045V1059M859.7 1045V1059M890.5 1045V1066M921.3 1045V1059M952.1 1045V1059M982.9 1045V1059M1013.7 1045V1059M1044.6 1045V1059M1075.4 1045V1059M1106.2 1045V1059M1137.0 1045V1059M1167.8 1045V1059M1198.6 1045V1066M1229.4 1045V1059M1260.2 1045V1059M1291.0 1045V1059M1321.8 1045V1059M1352.7 1045V1059M1383.5 1045V1059M1414.3 1045V1059M1445.1 1045V1059M1475.9 1045V1059M1506.7 1045V1066" stroke-width="4.3"/>
</g>
<g stroke="none"><polygon points="721.5,1049.0 748.5,1023.9 735.4,1014.8" fill="#8000ff"/>
<polygon points="1033.0,1052.0 1056.8,1020.4 1036.2,1012.6" fill="#00ff00"/>
<polygon points="1074.5,1049.0 1096.9,1016.4 1076.0,1009.5" fill="#ff00ff"/>
<polygon points="1091.0,1048.0 1113.6,1015.5 1092.8,1008.5" fill="#008000"/>
<polygon points="1108.5,1052.0 1130.6,1019.2 1109.7,1012.5" fill="#ff0000"/>
<polygon points="1210.5,1052.0 1236.6,1022.3 1216.7,1012.9" fill="#000000"/></g>
<g class="t th2" font-size="50"><text transform="translate(246.5 1057.8) scale(0.87 1)" text-anchor="end">0.000</text><text transform="translate(246.5 892.1) scale(0.87 1)" text-anchor="end">0.002</text><text transform="translate(246.5 726.5) scale(0.87 1)" text-anchor="end">0.004</text><text transform="translate(246.5 560.8) scale(0.87 1)" text-anchor="end">0.006</text><text transform="translate(246.5 395.1) scale(0.87 1)" text-anchor="end">0.008</text><text transform="translate(246.5 229.5) scale(0.87 1)" text-anchor="end">0.010</text><text transform="translate(246.5 63.8) scale(0.87 1)" text-anchor="end">0.012</text></g>
<g class="t th2" font-size="50"><text transform="translate(272.3 1109) scale(0.87 1)" text-anchor="middle">0.001</text><text transform="translate(580.4 1109) scale(0.87 1)" text-anchor="middle">0.002</text><text transform="translate(888.5 1109) scale(0.87 1)" text-anchor="middle">0.003</text><text transform="translate(1196.6 1109) scale(0.87 1)" text-anchor="middle">0.004</text><text transform="translate(1504.7 1109) scale(0.87 1)" text-anchor="middle">0.005</text></g>
<g class="t th" font-size="57"><path d="M284.5 92.0H414.2" stroke="#000000" stroke-width="6.8"/><text x="424.5" y="109.8" transform="translate(424.5 0) scale(0.98 1) translate(-424.5 0)">PVA</text><path d="M284.5 162.0H414.2" stroke="#ff0000" stroke-width="6.8"/><text x="424.5" y="178.2" transform="translate(424.5 0) scale(0.98 1) translate(-424.5 0)">PVA/PVP blend</text><path d="M284.5 228.5H414.2" stroke="#008000" stroke-width="6.8"/><text x="424.5" y="246.6" transform="translate(424.5 0) scale(0.955 1) translate(-424.5 0)">1Bi-blend</text><path d="M284.5 297.5H414.2" stroke="#ff00ff" stroke-width="6.8"/><text x="424.5" y="315.0" transform="translate(424.5 0) scale(0.955 1) translate(-424.5 0)">2Bi-blend</text><path d="M284.5 365.0H414.2" stroke="#00ff00" stroke-width="6.8"/><text x="424.5" y="383.4" transform="translate(424.5 0) scale(0.955 1) translate(-424.5 0)">3Bi-blend</text><path d="M284.5 434.0H414.2" stroke="#8000ff" stroke-width="6.8"/><text x="424.5" y="451.8" transform="translate(424.5 0) scale(0.955 1) translate(-424.5 0)">4Bi-blend</text></g>
<g class="t" font-style="italic">
<text transform="translate(787.6 1196.5) scale(0.78 1)" font-size="57">1</text>
<text x="816.7" y="1196.5" font-size="57" font-weight="normal">/</text>
<text x="834.8" y="1196.5" font-size="57">λ</text>
<text x="856.8" y="1196.5" font-size="57" font-weight="normal">,</text>
<text x="890.6" y="1196.5" font-size="57" font-weight="normal">cm</text>
<text x="963.5" y="1169.7" font-size="35" font-weight="normal">-</text>
<text x="977.7" y="1169.7" font-size="35" font-weight="normal" transform="translate(977.7 0) scale(0.8 1) translate(-977.7 0)">1</text>
</g>
<g class="t" font-style="italic" transform="translate(78 692) rotate(-90)">
<text transform="translate(1 0) scale(0.94 1)" font-size="57">Abs.</text>
<text x="117" y="-24.8" font-size="38" font-weight="normal" transform="translate(117 0) scale(0.85 1) translate(-117 0)">0</text>
<text x="135" y="-24.8" font-size="38" font-weight="normal">.</text>
<text x="142" y="-24.8" font-size="38" font-weight="normal" transform="translate(142 0) scale(0.85 1) translate(-142 0)">5</text>
<text x="160" y="0" font-size="57" font-weight="normal">/</text>
<text x="180" y="0" font-size="57" font-weight="normal" transform="translate(180 0) scale(0.93 1) translate(-180 0)">λ</text>
<text x="201" y="0" font-size="57" font-weight="normal">,</text>
<text transform="translate(236 0) scale(0.94 1)" font-size="57" font-weight="normal">cm</text>
<text x="305" y="-24.8" font-size="34" font-weight="normal">-</text>
<text x="321" y="-24.8" font-size="34" font-weight="normal" transform="translate(321 0) scale(0.8 1) translate(-321 0)">1</text>
</g>
</svg>
</body></html>
